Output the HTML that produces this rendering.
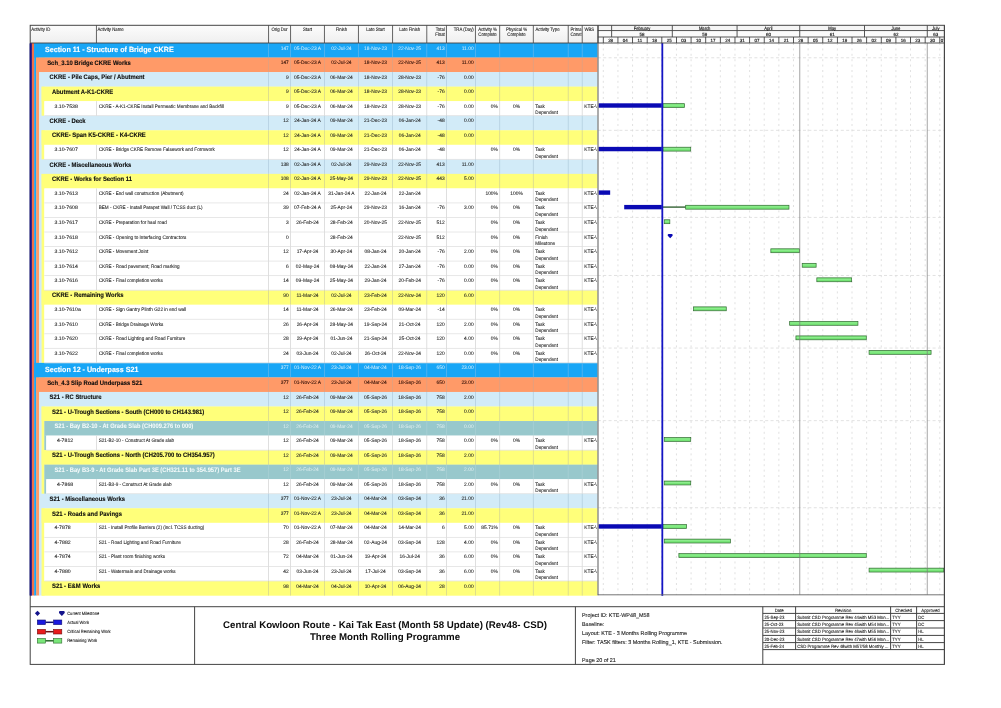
<!DOCTYPE html><html lang="en"><head><meta charset="utf-8"><title>Three Month Rolling Programme</title>
<style>
*{margin:0;padding:0;box-sizing:border-box}
html,body{width:1001px;height:708px;background:#fff;overflow:hidden}
body{position:relative;font-family:"Liberation Sans",sans-serif;color:#111;text-rendering:geometricPrecision;-webkit-font-smoothing:antialiased}
#pg{position:absolute;left:0;top:0;width:1001px;height:708px;overflow:hidden}
text{font-family:"Liberation Sans",sans-serif;stroke-linejoin:round}
.t{fill:#222;stroke:#222;stroke-width:.08px}
.h{fill:#2a2a2a;stroke:#2a2a2a;stroke-width:.12px}
.g{font-weight:bold;fill:#0c0c0c;stroke:#0c0c0c;stroke-width:.12px}
.s{font-weight:bold;fill:#fff;stroke:#fff;stroke-width:.14px}
.w{fill:#fff;stroke:#fff}
.t.w{stroke:none;fill-opacity:.88}
.g.w{fill:#f4fafa;stroke:#f4fafa;stroke-width:.04px}
.gh{fill:#222;stroke:#222;stroke-width:.18px}
.ft{fill:#1c1c1c;stroke:#1c1c1c;stroke-width:.1px}
.rv{fill:#1c1c1c;stroke:#1c1c1c;stroke-width:.1px}
.lg{fill:#1c1c1c;stroke:#1c1c1c;stroke-width:.1px}
.ttl{font-weight:bold;fill:#0c0c0c}
svg{position:absolute;left:0;top:0}
#tx{will-change:transform;opacity:.999}
</style></head><body><div id="pg"><svg id="gfx" width="1001" height="708" viewBox="0 0 1001 708">
<defs><linearGradient id="hg" x1="0" y1="0" x2="0" y2="1"><stop offset="0" stop-color="#fcfcfc"/><stop offset="1" stop-color="#efefef"/></linearGradient></defs>
<rect x="30.2" y="25.3" width="567.6" height="17.7" fill="url(#hg)"/>
<rect x="95.95" y="25.3" width="0.9" height="17.7" fill="#555"/>
<rect x="268.15" y="25.3" width="0.9" height="17.7" fill="#555"/>
<rect x="290.15" y="25.3" width="0.9" height="17.7" fill="#555"/>
<rect x="323.95" y="25.3" width="0.9" height="17.7" fill="#555"/>
<rect x="357.95" y="25.3" width="0.9" height="17.7" fill="#555"/>
<rect x="392.15" y="25.3" width="0.9" height="17.7" fill="#555"/>
<rect x="426.35" y="25.3" width="0.9" height="17.7" fill="#555"/>
<rect x="445.95" y="25.3" width="0.9" height="17.7" fill="#555"/>
<rect x="474.95" y="25.3" width="0.9" height="17.7" fill="#555"/>
<rect x="499.25" y="25.3" width="0.9" height="17.7" fill="#555"/>
<rect x="532.85" y="25.3" width="0.9" height="17.7" fill="#555"/>
<rect x="567.75" y="25.3" width="0.9" height="17.7" fill="#555"/>
<rect x="581.75" y="25.3" width="0.9" height="17.7" fill="#555"/>
<rect x="30" y="43" width="1.9" height="552.5" fill="#14148c"/>
<rect x="31.6" y="43" width="2.9" height="552.5" fill="#f0704a"/>
<rect x="34.2" y="43" width="2.3" height="552.5" fill="#18a6f6"/>
<rect x="36.2" y="43" width="3.1" height="552.5" fill="#ff9a68"/>
<rect x="39" y="43" width="2.9" height="552.5" fill="#d2ebf8"/>
<rect x="41.6" y="43" width="3" height="552.5" fill="#ffff7a"/>
<rect x="34.2" y="43" width="563.6" height="14.74" fill="#18a6f6"/>
<rect x="36.2" y="57.54" width="561.6" height="14.74" fill="#ff9a68"/>
<rect x="39" y="72.08" width="558.8" height="14.74" fill="#d2ebf8"/>
<rect x="41.6" y="86.62" width="556.2" height="14.74" fill="#ffff7a"/>
<rect x="44.3" y="101.16" width="553.5" height="14.74" fill="#fff"/>
<rect x="39" y="115.7" width="558.8" height="14.74" fill="#d2ebf8"/>
<rect x="41.6" y="130.24" width="556.2" height="14.74" fill="#ffff7a"/>
<rect x="44.3" y="144.78" width="553.5" height="14.74" fill="#fff"/>
<rect x="39" y="159.32" width="558.8" height="14.74" fill="#d2ebf8"/>
<rect x="41.6" y="173.86" width="556.2" height="14.74" fill="#ffff7a"/>
<rect x="44.3" y="188.39" width="553.5" height="14.74" fill="#fff"/>
<rect x="44.3" y="202.93" width="553.5" height="14.74" fill="#fff"/>
<rect x="44.3" y="217.47" width="553.5" height="14.74" fill="#fff"/>
<rect x="44.3" y="232.01" width="553.5" height="14.74" fill="#fff"/>
<rect x="44.3" y="246.55" width="553.5" height="14.74" fill="#fff"/>
<rect x="44.3" y="261.09" width="553.5" height="14.74" fill="#fff"/>
<rect x="44.3" y="275.63" width="553.5" height="14.74" fill="#fff"/>
<rect x="41.6" y="290.17" width="556.2" height="14.74" fill="#ffff7a"/>
<rect x="44.3" y="304.71" width="553.5" height="14.74" fill="#fff"/>
<rect x="44.3" y="319.25" width="553.5" height="14.74" fill="#fff"/>
<rect x="44.3" y="333.79" width="553.5" height="14.74" fill="#fff"/>
<rect x="44.3" y="348.33" width="553.5" height="14.74" fill="#fff"/>
<rect x="34.2" y="362.87" width="563.6" height="14.74" fill="#18a6f6"/>
<rect x="36.2" y="377.41" width="561.6" height="14.74" fill="#ff9a68"/>
<rect x="39" y="391.95" width="558.8" height="14.74" fill="#d2ebf8"/>
<rect x="41.6" y="406.49" width="556.2" height="14.74" fill="#ffff7a"/>
<rect x="44.3" y="421.03" width="553.5" height="14.74" fill="#98c8cc"/>
<rect x="44.3" y="435.57" width="2" height="14.74" fill="#98c8cc"/>
<rect x="46.3" y="435.57" width="551.5" height="14.74" fill="#fff"/>
<rect x="41.6" y="450.11" width="556.2" height="14.74" fill="#ffff7a"/>
<rect x="44.3" y="464.64" width="553.5" height="14.74" fill="#98c8cc"/>
<rect x="44.3" y="479.18" width="2" height="14.74" fill="#98c8cc"/>
<rect x="46.3" y="479.18" width="551.5" height="14.74" fill="#fff"/>
<rect x="39" y="493.72" width="558.8" height="14.74" fill="#d2ebf8"/>
<rect x="41.6" y="508.26" width="556.2" height="14.74" fill="#ffff7a"/>
<rect x="44.3" y="522.8" width="553.5" height="14.74" fill="#fff"/>
<rect x="44.3" y="537.34" width="553.5" height="14.74" fill="#fff"/>
<rect x="44.3" y="551.88" width="553.5" height="14.74" fill="#fff"/>
<rect x="44.3" y="566.42" width="553.5" height="14.74" fill="#fff"/>
<rect x="41.6" y="580.96" width="556.2" height="14.74" fill="#ffff7a"/>
<rect x="268.2" y="43" width="0.8" height="14.54" fill="#5cb4ee"/>
<rect x="290.2" y="43" width="0.8" height="14.54" fill="#5cb4ee"/>
<rect x="324" y="43" width="0.8" height="14.54" fill="#5cb4ee"/>
<rect x="358" y="43" width="0.8" height="14.54" fill="#5cb4ee"/>
<rect x="392.2" y="43" width="0.8" height="14.54" fill="#5cb4ee"/>
<rect x="426.4" y="43" width="0.8" height="14.54" fill="#5cb4ee"/>
<rect x="446" y="43" width="0.8" height="14.54" fill="#5cb4ee"/>
<rect x="475" y="43" width="0.8" height="14.54" fill="#5cb4ee"/>
<rect x="499.3" y="43" width="0.8" height="14.54" fill="#5cb4ee"/>
<rect x="532.9" y="43" width="0.8" height="14.54" fill="#5cb4ee"/>
<rect x="567.8" y="43" width="0.8" height="14.54" fill="#5cb4ee"/>
<rect x="581.8" y="43" width="0.8" height="14.54" fill="#5cb4ee"/>
<rect x="268.2" y="57.54" width="0.8" height="14.54" fill="#e0a080"/>
<rect x="290.2" y="57.54" width="0.8" height="14.54" fill="#e0a080"/>
<rect x="324" y="57.54" width="0.8" height="14.54" fill="#e0a080"/>
<rect x="358" y="57.54" width="0.8" height="14.54" fill="#e0a080"/>
<rect x="392.2" y="57.54" width="0.8" height="14.54" fill="#e0a080"/>
<rect x="426.4" y="57.54" width="0.8" height="14.54" fill="#e0a080"/>
<rect x="446" y="57.54" width="0.8" height="14.54" fill="#e0a080"/>
<rect x="475" y="57.54" width="0.8" height="14.54" fill="#e0a080"/>
<rect x="499.3" y="57.54" width="0.8" height="14.54" fill="#e0a080"/>
<rect x="532.9" y="57.54" width="0.8" height="14.54" fill="#e0a080"/>
<rect x="567.8" y="57.54" width="0.8" height="14.54" fill="#e0a080"/>
<rect x="581.8" y="57.54" width="0.8" height="14.54" fill="#e0a080"/>
<rect x="268.2" y="72.08" width="0.8" height="14.54" fill="#b4cfe0"/>
<rect x="290.2" y="72.08" width="0.8" height="14.54" fill="#b4cfe0"/>
<rect x="324" y="72.08" width="0.8" height="14.54" fill="#b4cfe0"/>
<rect x="358" y="72.08" width="0.8" height="14.54" fill="#b4cfe0"/>
<rect x="392.2" y="72.08" width="0.8" height="14.54" fill="#b4cfe0"/>
<rect x="426.4" y="72.08" width="0.8" height="14.54" fill="#b4cfe0"/>
<rect x="446" y="72.08" width="0.8" height="14.54" fill="#b4cfe0"/>
<rect x="475" y="72.08" width="0.8" height="14.54" fill="#b4cfe0"/>
<rect x="499.3" y="72.08" width="0.8" height="14.54" fill="#b4cfe0"/>
<rect x="532.9" y="72.08" width="0.8" height="14.54" fill="#b4cfe0"/>
<rect x="567.8" y="72.08" width="0.8" height="14.54" fill="#b4cfe0"/>
<rect x="581.8" y="72.08" width="0.8" height="14.54" fill="#b4cfe0"/>
<rect x="268.2" y="86.62" width="0.8" height="14.54" fill="#d8d890"/>
<rect x="290.2" y="86.62" width="0.8" height="14.54" fill="#d8d890"/>
<rect x="324" y="86.62" width="0.8" height="14.54" fill="#d8d890"/>
<rect x="358" y="86.62" width="0.8" height="14.54" fill="#d8d890"/>
<rect x="392.2" y="86.62" width="0.8" height="14.54" fill="#d8d890"/>
<rect x="426.4" y="86.62" width="0.8" height="14.54" fill="#d8d890"/>
<rect x="446" y="86.62" width="0.8" height="14.54" fill="#d8d890"/>
<rect x="475" y="86.62" width="0.8" height="14.54" fill="#d8d890"/>
<rect x="499.3" y="86.62" width="0.8" height="14.54" fill="#d8d890"/>
<rect x="532.9" y="86.62" width="0.8" height="14.54" fill="#d8d890"/>
<rect x="567.8" y="86.62" width="0.8" height="14.54" fill="#d8d890"/>
<rect x="581.8" y="86.62" width="0.8" height="14.54" fill="#d8d890"/>
<rect x="44.3" y="115.3" width="553.5" height="0.8" fill="#e2e2e2"/>
<rect x="96" y="101.16" width="0.8" height="14.54" fill="#d8d8d8"/>
<rect x="268.2" y="101.16" width="0.8" height="14.54" fill="#d8d8d8"/>
<rect x="290.2" y="101.16" width="0.8" height="14.54" fill="#d8d8d8"/>
<rect x="324" y="101.16" width="0.8" height="14.54" fill="#d8d8d8"/>
<rect x="358" y="101.16" width="0.8" height="14.54" fill="#d8d8d8"/>
<rect x="392.2" y="101.16" width="0.8" height="14.54" fill="#d8d8d8"/>
<rect x="426.4" y="101.16" width="0.8" height="14.54" fill="#d8d8d8"/>
<rect x="446" y="101.16" width="0.8" height="14.54" fill="#d8d8d8"/>
<rect x="475" y="101.16" width="0.8" height="14.54" fill="#d8d8d8"/>
<rect x="499.3" y="101.16" width="0.8" height="14.54" fill="#d8d8d8"/>
<rect x="532.9" y="101.16" width="0.8" height="14.54" fill="#d8d8d8"/>
<rect x="567.8" y="101.16" width="0.8" height="14.54" fill="#d8d8d8"/>
<rect x="581.8" y="101.16" width="0.8" height="14.54" fill="#d8d8d8"/>
<rect x="268.2" y="115.7" width="0.8" height="14.54" fill="#b4cfe0"/>
<rect x="290.2" y="115.7" width="0.8" height="14.54" fill="#b4cfe0"/>
<rect x="324" y="115.7" width="0.8" height="14.54" fill="#b4cfe0"/>
<rect x="358" y="115.7" width="0.8" height="14.54" fill="#b4cfe0"/>
<rect x="392.2" y="115.7" width="0.8" height="14.54" fill="#b4cfe0"/>
<rect x="426.4" y="115.7" width="0.8" height="14.54" fill="#b4cfe0"/>
<rect x="446" y="115.7" width="0.8" height="14.54" fill="#b4cfe0"/>
<rect x="475" y="115.7" width="0.8" height="14.54" fill="#b4cfe0"/>
<rect x="499.3" y="115.7" width="0.8" height="14.54" fill="#b4cfe0"/>
<rect x="532.9" y="115.7" width="0.8" height="14.54" fill="#b4cfe0"/>
<rect x="567.8" y="115.7" width="0.8" height="14.54" fill="#b4cfe0"/>
<rect x="581.8" y="115.7" width="0.8" height="14.54" fill="#b4cfe0"/>
<rect x="268.2" y="130.24" width="0.8" height="14.54" fill="#d8d890"/>
<rect x="290.2" y="130.24" width="0.8" height="14.54" fill="#d8d890"/>
<rect x="324" y="130.24" width="0.8" height="14.54" fill="#d8d890"/>
<rect x="358" y="130.24" width="0.8" height="14.54" fill="#d8d890"/>
<rect x="392.2" y="130.24" width="0.8" height="14.54" fill="#d8d890"/>
<rect x="426.4" y="130.24" width="0.8" height="14.54" fill="#d8d890"/>
<rect x="446" y="130.24" width="0.8" height="14.54" fill="#d8d890"/>
<rect x="475" y="130.24" width="0.8" height="14.54" fill="#d8d890"/>
<rect x="499.3" y="130.24" width="0.8" height="14.54" fill="#d8d890"/>
<rect x="532.9" y="130.24" width="0.8" height="14.54" fill="#d8d890"/>
<rect x="567.8" y="130.24" width="0.8" height="14.54" fill="#d8d890"/>
<rect x="581.8" y="130.24" width="0.8" height="14.54" fill="#d8d890"/>
<rect x="44.3" y="158.92" width="553.5" height="0.8" fill="#e2e2e2"/>
<rect x="96" y="144.78" width="0.8" height="14.54" fill="#d8d8d8"/>
<rect x="268.2" y="144.78" width="0.8" height="14.54" fill="#d8d8d8"/>
<rect x="290.2" y="144.78" width="0.8" height="14.54" fill="#d8d8d8"/>
<rect x="324" y="144.78" width="0.8" height="14.54" fill="#d8d8d8"/>
<rect x="358" y="144.78" width="0.8" height="14.54" fill="#d8d8d8"/>
<rect x="392.2" y="144.78" width="0.8" height="14.54" fill="#d8d8d8"/>
<rect x="426.4" y="144.78" width="0.8" height="14.54" fill="#d8d8d8"/>
<rect x="446" y="144.78" width="0.8" height="14.54" fill="#d8d8d8"/>
<rect x="475" y="144.78" width="0.8" height="14.54" fill="#d8d8d8"/>
<rect x="499.3" y="144.78" width="0.8" height="14.54" fill="#d8d8d8"/>
<rect x="532.9" y="144.78" width="0.8" height="14.54" fill="#d8d8d8"/>
<rect x="567.8" y="144.78" width="0.8" height="14.54" fill="#d8d8d8"/>
<rect x="581.8" y="144.78" width="0.8" height="14.54" fill="#d8d8d8"/>
<rect x="268.2" y="159.32" width="0.8" height="14.54" fill="#b4cfe0"/>
<rect x="290.2" y="159.32" width="0.8" height="14.54" fill="#b4cfe0"/>
<rect x="324" y="159.32" width="0.8" height="14.54" fill="#b4cfe0"/>
<rect x="358" y="159.32" width="0.8" height="14.54" fill="#b4cfe0"/>
<rect x="392.2" y="159.32" width="0.8" height="14.54" fill="#b4cfe0"/>
<rect x="426.4" y="159.32" width="0.8" height="14.54" fill="#b4cfe0"/>
<rect x="446" y="159.32" width="0.8" height="14.54" fill="#b4cfe0"/>
<rect x="475" y="159.32" width="0.8" height="14.54" fill="#b4cfe0"/>
<rect x="499.3" y="159.32" width="0.8" height="14.54" fill="#b4cfe0"/>
<rect x="532.9" y="159.32" width="0.8" height="14.54" fill="#b4cfe0"/>
<rect x="567.8" y="159.32" width="0.8" height="14.54" fill="#b4cfe0"/>
<rect x="581.8" y="159.32" width="0.8" height="14.54" fill="#b4cfe0"/>
<rect x="268.2" y="173.86" width="0.8" height="14.54" fill="#d8d890"/>
<rect x="290.2" y="173.86" width="0.8" height="14.54" fill="#d8d890"/>
<rect x="324" y="173.86" width="0.8" height="14.54" fill="#d8d890"/>
<rect x="358" y="173.86" width="0.8" height="14.54" fill="#d8d890"/>
<rect x="392.2" y="173.86" width="0.8" height="14.54" fill="#d8d890"/>
<rect x="426.4" y="173.86" width="0.8" height="14.54" fill="#d8d890"/>
<rect x="446" y="173.86" width="0.8" height="14.54" fill="#d8d890"/>
<rect x="475" y="173.86" width="0.8" height="14.54" fill="#d8d890"/>
<rect x="499.3" y="173.86" width="0.8" height="14.54" fill="#d8d890"/>
<rect x="532.9" y="173.86" width="0.8" height="14.54" fill="#d8d890"/>
<rect x="567.8" y="173.86" width="0.8" height="14.54" fill="#d8d890"/>
<rect x="581.8" y="173.86" width="0.8" height="14.54" fill="#d8d890"/>
<rect x="44.3" y="202.53" width="553.5" height="0.8" fill="#e2e2e2"/>
<rect x="96" y="188.39" width="0.8" height="14.54" fill="#d8d8d8"/>
<rect x="268.2" y="188.39" width="0.8" height="14.54" fill="#d8d8d8"/>
<rect x="290.2" y="188.39" width="0.8" height="14.54" fill="#d8d8d8"/>
<rect x="324" y="188.39" width="0.8" height="14.54" fill="#d8d8d8"/>
<rect x="358" y="188.39" width="0.8" height="14.54" fill="#d8d8d8"/>
<rect x="392.2" y="188.39" width="0.8" height="14.54" fill="#d8d8d8"/>
<rect x="426.4" y="188.39" width="0.8" height="14.54" fill="#d8d8d8"/>
<rect x="446" y="188.39" width="0.8" height="14.54" fill="#d8d8d8"/>
<rect x="475" y="188.39" width="0.8" height="14.54" fill="#d8d8d8"/>
<rect x="499.3" y="188.39" width="0.8" height="14.54" fill="#d8d8d8"/>
<rect x="532.9" y="188.39" width="0.8" height="14.54" fill="#d8d8d8"/>
<rect x="567.8" y="188.39" width="0.8" height="14.54" fill="#d8d8d8"/>
<rect x="581.8" y="188.39" width="0.8" height="14.54" fill="#d8d8d8"/>
<rect x="44.3" y="217.07" width="553.5" height="0.8" fill="#e2e2e2"/>
<rect x="96" y="202.93" width="0.8" height="14.54" fill="#d8d8d8"/>
<rect x="268.2" y="202.93" width="0.8" height="14.54" fill="#d8d8d8"/>
<rect x="290.2" y="202.93" width="0.8" height="14.54" fill="#d8d8d8"/>
<rect x="324" y="202.93" width="0.8" height="14.54" fill="#d8d8d8"/>
<rect x="358" y="202.93" width="0.8" height="14.54" fill="#d8d8d8"/>
<rect x="392.2" y="202.93" width="0.8" height="14.54" fill="#d8d8d8"/>
<rect x="426.4" y="202.93" width="0.8" height="14.54" fill="#d8d8d8"/>
<rect x="446" y="202.93" width="0.8" height="14.54" fill="#d8d8d8"/>
<rect x="475" y="202.93" width="0.8" height="14.54" fill="#d8d8d8"/>
<rect x="499.3" y="202.93" width="0.8" height="14.54" fill="#d8d8d8"/>
<rect x="532.9" y="202.93" width="0.8" height="14.54" fill="#d8d8d8"/>
<rect x="567.8" y="202.93" width="0.8" height="14.54" fill="#d8d8d8"/>
<rect x="581.8" y="202.93" width="0.8" height="14.54" fill="#d8d8d8"/>
<rect x="44.3" y="231.61" width="553.5" height="0.8" fill="#e2e2e2"/>
<rect x="96" y="217.47" width="0.8" height="14.54" fill="#d8d8d8"/>
<rect x="268.2" y="217.47" width="0.8" height="14.54" fill="#d8d8d8"/>
<rect x="290.2" y="217.47" width="0.8" height="14.54" fill="#d8d8d8"/>
<rect x="324" y="217.47" width="0.8" height="14.54" fill="#d8d8d8"/>
<rect x="358" y="217.47" width="0.8" height="14.54" fill="#d8d8d8"/>
<rect x="392.2" y="217.47" width="0.8" height="14.54" fill="#d8d8d8"/>
<rect x="426.4" y="217.47" width="0.8" height="14.54" fill="#d8d8d8"/>
<rect x="446" y="217.47" width="0.8" height="14.54" fill="#d8d8d8"/>
<rect x="475" y="217.47" width="0.8" height="14.54" fill="#d8d8d8"/>
<rect x="499.3" y="217.47" width="0.8" height="14.54" fill="#d8d8d8"/>
<rect x="532.9" y="217.47" width="0.8" height="14.54" fill="#d8d8d8"/>
<rect x="567.8" y="217.47" width="0.8" height="14.54" fill="#d8d8d8"/>
<rect x="581.8" y="217.47" width="0.8" height="14.54" fill="#d8d8d8"/>
<rect x="44.3" y="246.15" width="553.5" height="0.8" fill="#e2e2e2"/>
<rect x="96" y="232.01" width="0.8" height="14.54" fill="#d8d8d8"/>
<rect x="268.2" y="232.01" width="0.8" height="14.54" fill="#d8d8d8"/>
<rect x="290.2" y="232.01" width="0.8" height="14.54" fill="#d8d8d8"/>
<rect x="324" y="232.01" width="0.8" height="14.54" fill="#d8d8d8"/>
<rect x="358" y="232.01" width="0.8" height="14.54" fill="#d8d8d8"/>
<rect x="392.2" y="232.01" width="0.8" height="14.54" fill="#d8d8d8"/>
<rect x="426.4" y="232.01" width="0.8" height="14.54" fill="#d8d8d8"/>
<rect x="446" y="232.01" width="0.8" height="14.54" fill="#d8d8d8"/>
<rect x="475" y="232.01" width="0.8" height="14.54" fill="#d8d8d8"/>
<rect x="499.3" y="232.01" width="0.8" height="14.54" fill="#d8d8d8"/>
<rect x="532.9" y="232.01" width="0.8" height="14.54" fill="#d8d8d8"/>
<rect x="567.8" y="232.01" width="0.8" height="14.54" fill="#d8d8d8"/>
<rect x="581.8" y="232.01" width="0.8" height="14.54" fill="#d8d8d8"/>
<rect x="44.3" y="260.69" width="553.5" height="0.8" fill="#e2e2e2"/>
<rect x="96" y="246.55" width="0.8" height="14.54" fill="#d8d8d8"/>
<rect x="268.2" y="246.55" width="0.8" height="14.54" fill="#d8d8d8"/>
<rect x="290.2" y="246.55" width="0.8" height="14.54" fill="#d8d8d8"/>
<rect x="324" y="246.55" width="0.8" height="14.54" fill="#d8d8d8"/>
<rect x="358" y="246.55" width="0.8" height="14.54" fill="#d8d8d8"/>
<rect x="392.2" y="246.55" width="0.8" height="14.54" fill="#d8d8d8"/>
<rect x="426.4" y="246.55" width="0.8" height="14.54" fill="#d8d8d8"/>
<rect x="446" y="246.55" width="0.8" height="14.54" fill="#d8d8d8"/>
<rect x="475" y="246.55" width="0.8" height="14.54" fill="#d8d8d8"/>
<rect x="499.3" y="246.55" width="0.8" height="14.54" fill="#d8d8d8"/>
<rect x="532.9" y="246.55" width="0.8" height="14.54" fill="#d8d8d8"/>
<rect x="567.8" y="246.55" width="0.8" height="14.54" fill="#d8d8d8"/>
<rect x="581.8" y="246.55" width="0.8" height="14.54" fill="#d8d8d8"/>
<rect x="44.3" y="275.23" width="553.5" height="0.8" fill="#e2e2e2"/>
<rect x="96" y="261.09" width="0.8" height="14.54" fill="#d8d8d8"/>
<rect x="268.2" y="261.09" width="0.8" height="14.54" fill="#d8d8d8"/>
<rect x="290.2" y="261.09" width="0.8" height="14.54" fill="#d8d8d8"/>
<rect x="324" y="261.09" width="0.8" height="14.54" fill="#d8d8d8"/>
<rect x="358" y="261.09" width="0.8" height="14.54" fill="#d8d8d8"/>
<rect x="392.2" y="261.09" width="0.8" height="14.54" fill="#d8d8d8"/>
<rect x="426.4" y="261.09" width="0.8" height="14.54" fill="#d8d8d8"/>
<rect x="446" y="261.09" width="0.8" height="14.54" fill="#d8d8d8"/>
<rect x="475" y="261.09" width="0.8" height="14.54" fill="#d8d8d8"/>
<rect x="499.3" y="261.09" width="0.8" height="14.54" fill="#d8d8d8"/>
<rect x="532.9" y="261.09" width="0.8" height="14.54" fill="#d8d8d8"/>
<rect x="567.8" y="261.09" width="0.8" height="14.54" fill="#d8d8d8"/>
<rect x="581.8" y="261.09" width="0.8" height="14.54" fill="#d8d8d8"/>
<rect x="44.3" y="289.77" width="553.5" height="0.8" fill="#e2e2e2"/>
<rect x="96" y="275.63" width="0.8" height="14.54" fill="#d8d8d8"/>
<rect x="268.2" y="275.63" width="0.8" height="14.54" fill="#d8d8d8"/>
<rect x="290.2" y="275.63" width="0.8" height="14.54" fill="#d8d8d8"/>
<rect x="324" y="275.63" width="0.8" height="14.54" fill="#d8d8d8"/>
<rect x="358" y="275.63" width="0.8" height="14.54" fill="#d8d8d8"/>
<rect x="392.2" y="275.63" width="0.8" height="14.54" fill="#d8d8d8"/>
<rect x="426.4" y="275.63" width="0.8" height="14.54" fill="#d8d8d8"/>
<rect x="446" y="275.63" width="0.8" height="14.54" fill="#d8d8d8"/>
<rect x="475" y="275.63" width="0.8" height="14.54" fill="#d8d8d8"/>
<rect x="499.3" y="275.63" width="0.8" height="14.54" fill="#d8d8d8"/>
<rect x="532.9" y="275.63" width="0.8" height="14.54" fill="#d8d8d8"/>
<rect x="567.8" y="275.63" width="0.8" height="14.54" fill="#d8d8d8"/>
<rect x="581.8" y="275.63" width="0.8" height="14.54" fill="#d8d8d8"/>
<rect x="268.2" y="290.17" width="0.8" height="14.54" fill="#d8d890"/>
<rect x="290.2" y="290.17" width="0.8" height="14.54" fill="#d8d890"/>
<rect x="324" y="290.17" width="0.8" height="14.54" fill="#d8d890"/>
<rect x="358" y="290.17" width="0.8" height="14.54" fill="#d8d890"/>
<rect x="392.2" y="290.17" width="0.8" height="14.54" fill="#d8d890"/>
<rect x="426.4" y="290.17" width="0.8" height="14.54" fill="#d8d890"/>
<rect x="446" y="290.17" width="0.8" height="14.54" fill="#d8d890"/>
<rect x="475" y="290.17" width="0.8" height="14.54" fill="#d8d890"/>
<rect x="499.3" y="290.17" width="0.8" height="14.54" fill="#d8d890"/>
<rect x="532.9" y="290.17" width="0.8" height="14.54" fill="#d8d890"/>
<rect x="567.8" y="290.17" width="0.8" height="14.54" fill="#d8d890"/>
<rect x="581.8" y="290.17" width="0.8" height="14.54" fill="#d8d890"/>
<rect x="44.3" y="318.85" width="553.5" height="0.8" fill="#e2e2e2"/>
<rect x="96" y="304.71" width="0.8" height="14.54" fill="#d8d8d8"/>
<rect x="268.2" y="304.71" width="0.8" height="14.54" fill="#d8d8d8"/>
<rect x="290.2" y="304.71" width="0.8" height="14.54" fill="#d8d8d8"/>
<rect x="324" y="304.71" width="0.8" height="14.54" fill="#d8d8d8"/>
<rect x="358" y="304.71" width="0.8" height="14.54" fill="#d8d8d8"/>
<rect x="392.2" y="304.71" width="0.8" height="14.54" fill="#d8d8d8"/>
<rect x="426.4" y="304.71" width="0.8" height="14.54" fill="#d8d8d8"/>
<rect x="446" y="304.71" width="0.8" height="14.54" fill="#d8d8d8"/>
<rect x="475" y="304.71" width="0.8" height="14.54" fill="#d8d8d8"/>
<rect x="499.3" y="304.71" width="0.8" height="14.54" fill="#d8d8d8"/>
<rect x="532.9" y="304.71" width="0.8" height="14.54" fill="#d8d8d8"/>
<rect x="567.8" y="304.71" width="0.8" height="14.54" fill="#d8d8d8"/>
<rect x="581.8" y="304.71" width="0.8" height="14.54" fill="#d8d8d8"/>
<rect x="44.3" y="333.39" width="553.5" height="0.8" fill="#e2e2e2"/>
<rect x="96" y="319.25" width="0.8" height="14.54" fill="#d8d8d8"/>
<rect x="268.2" y="319.25" width="0.8" height="14.54" fill="#d8d8d8"/>
<rect x="290.2" y="319.25" width="0.8" height="14.54" fill="#d8d8d8"/>
<rect x="324" y="319.25" width="0.8" height="14.54" fill="#d8d8d8"/>
<rect x="358" y="319.25" width="0.8" height="14.54" fill="#d8d8d8"/>
<rect x="392.2" y="319.25" width="0.8" height="14.54" fill="#d8d8d8"/>
<rect x="426.4" y="319.25" width="0.8" height="14.54" fill="#d8d8d8"/>
<rect x="446" y="319.25" width="0.8" height="14.54" fill="#d8d8d8"/>
<rect x="475" y="319.25" width="0.8" height="14.54" fill="#d8d8d8"/>
<rect x="499.3" y="319.25" width="0.8" height="14.54" fill="#d8d8d8"/>
<rect x="532.9" y="319.25" width="0.8" height="14.54" fill="#d8d8d8"/>
<rect x="567.8" y="319.25" width="0.8" height="14.54" fill="#d8d8d8"/>
<rect x="581.8" y="319.25" width="0.8" height="14.54" fill="#d8d8d8"/>
<rect x="44.3" y="347.93" width="553.5" height="0.8" fill="#e2e2e2"/>
<rect x="96" y="333.79" width="0.8" height="14.54" fill="#d8d8d8"/>
<rect x="268.2" y="333.79" width="0.8" height="14.54" fill="#d8d8d8"/>
<rect x="290.2" y="333.79" width="0.8" height="14.54" fill="#d8d8d8"/>
<rect x="324" y="333.79" width="0.8" height="14.54" fill="#d8d8d8"/>
<rect x="358" y="333.79" width="0.8" height="14.54" fill="#d8d8d8"/>
<rect x="392.2" y="333.79" width="0.8" height="14.54" fill="#d8d8d8"/>
<rect x="426.4" y="333.79" width="0.8" height="14.54" fill="#d8d8d8"/>
<rect x="446" y="333.79" width="0.8" height="14.54" fill="#d8d8d8"/>
<rect x="475" y="333.79" width="0.8" height="14.54" fill="#d8d8d8"/>
<rect x="499.3" y="333.79" width="0.8" height="14.54" fill="#d8d8d8"/>
<rect x="532.9" y="333.79" width="0.8" height="14.54" fill="#d8d8d8"/>
<rect x="567.8" y="333.79" width="0.8" height="14.54" fill="#d8d8d8"/>
<rect x="581.8" y="333.79" width="0.8" height="14.54" fill="#d8d8d8"/>
<rect x="44.3" y="362.47" width="553.5" height="0.8" fill="#e2e2e2"/>
<rect x="96" y="348.33" width="0.8" height="14.54" fill="#d8d8d8"/>
<rect x="268.2" y="348.33" width="0.8" height="14.54" fill="#d8d8d8"/>
<rect x="290.2" y="348.33" width="0.8" height="14.54" fill="#d8d8d8"/>
<rect x="324" y="348.33" width="0.8" height="14.54" fill="#d8d8d8"/>
<rect x="358" y="348.33" width="0.8" height="14.54" fill="#d8d8d8"/>
<rect x="392.2" y="348.33" width="0.8" height="14.54" fill="#d8d8d8"/>
<rect x="426.4" y="348.33" width="0.8" height="14.54" fill="#d8d8d8"/>
<rect x="446" y="348.33" width="0.8" height="14.54" fill="#d8d8d8"/>
<rect x="475" y="348.33" width="0.8" height="14.54" fill="#d8d8d8"/>
<rect x="499.3" y="348.33" width="0.8" height="14.54" fill="#d8d8d8"/>
<rect x="532.9" y="348.33" width="0.8" height="14.54" fill="#d8d8d8"/>
<rect x="567.8" y="348.33" width="0.8" height="14.54" fill="#d8d8d8"/>
<rect x="581.8" y="348.33" width="0.8" height="14.54" fill="#d8d8d8"/>
<rect x="268.2" y="362.87" width="0.8" height="14.54" fill="#5cb4ee"/>
<rect x="290.2" y="362.87" width="0.8" height="14.54" fill="#5cb4ee"/>
<rect x="324" y="362.87" width="0.8" height="14.54" fill="#5cb4ee"/>
<rect x="358" y="362.87" width="0.8" height="14.54" fill="#5cb4ee"/>
<rect x="392.2" y="362.87" width="0.8" height="14.54" fill="#5cb4ee"/>
<rect x="426.4" y="362.87" width="0.8" height="14.54" fill="#5cb4ee"/>
<rect x="446" y="362.87" width="0.8" height="14.54" fill="#5cb4ee"/>
<rect x="475" y="362.87" width="0.8" height="14.54" fill="#5cb4ee"/>
<rect x="499.3" y="362.87" width="0.8" height="14.54" fill="#5cb4ee"/>
<rect x="532.9" y="362.87" width="0.8" height="14.54" fill="#5cb4ee"/>
<rect x="567.8" y="362.87" width="0.8" height="14.54" fill="#5cb4ee"/>
<rect x="581.8" y="362.87" width="0.8" height="14.54" fill="#5cb4ee"/>
<rect x="268.2" y="377.41" width="0.8" height="14.54" fill="#e0a080"/>
<rect x="290.2" y="377.41" width="0.8" height="14.54" fill="#e0a080"/>
<rect x="324" y="377.41" width="0.8" height="14.54" fill="#e0a080"/>
<rect x="358" y="377.41" width="0.8" height="14.54" fill="#e0a080"/>
<rect x="392.2" y="377.41" width="0.8" height="14.54" fill="#e0a080"/>
<rect x="426.4" y="377.41" width="0.8" height="14.54" fill="#e0a080"/>
<rect x="446" y="377.41" width="0.8" height="14.54" fill="#e0a080"/>
<rect x="475" y="377.41" width="0.8" height="14.54" fill="#e0a080"/>
<rect x="499.3" y="377.41" width="0.8" height="14.54" fill="#e0a080"/>
<rect x="532.9" y="377.41" width="0.8" height="14.54" fill="#e0a080"/>
<rect x="567.8" y="377.41" width="0.8" height="14.54" fill="#e0a080"/>
<rect x="581.8" y="377.41" width="0.8" height="14.54" fill="#e0a080"/>
<rect x="268.2" y="391.95" width="0.8" height="14.54" fill="#b4cfe0"/>
<rect x="290.2" y="391.95" width="0.8" height="14.54" fill="#b4cfe0"/>
<rect x="324" y="391.95" width="0.8" height="14.54" fill="#b4cfe0"/>
<rect x="358" y="391.95" width="0.8" height="14.54" fill="#b4cfe0"/>
<rect x="392.2" y="391.95" width="0.8" height="14.54" fill="#b4cfe0"/>
<rect x="426.4" y="391.95" width="0.8" height="14.54" fill="#b4cfe0"/>
<rect x="446" y="391.95" width="0.8" height="14.54" fill="#b4cfe0"/>
<rect x="475" y="391.95" width="0.8" height="14.54" fill="#b4cfe0"/>
<rect x="499.3" y="391.95" width="0.8" height="14.54" fill="#b4cfe0"/>
<rect x="532.9" y="391.95" width="0.8" height="14.54" fill="#b4cfe0"/>
<rect x="567.8" y="391.95" width="0.8" height="14.54" fill="#b4cfe0"/>
<rect x="581.8" y="391.95" width="0.8" height="14.54" fill="#b4cfe0"/>
<rect x="268.2" y="406.49" width="0.8" height="14.54" fill="#d8d890"/>
<rect x="290.2" y="406.49" width="0.8" height="14.54" fill="#d8d890"/>
<rect x="324" y="406.49" width="0.8" height="14.54" fill="#d8d890"/>
<rect x="358" y="406.49" width="0.8" height="14.54" fill="#d8d890"/>
<rect x="392.2" y="406.49" width="0.8" height="14.54" fill="#d8d890"/>
<rect x="426.4" y="406.49" width="0.8" height="14.54" fill="#d8d890"/>
<rect x="446" y="406.49" width="0.8" height="14.54" fill="#d8d890"/>
<rect x="475" y="406.49" width="0.8" height="14.54" fill="#d8d890"/>
<rect x="499.3" y="406.49" width="0.8" height="14.54" fill="#d8d890"/>
<rect x="532.9" y="406.49" width="0.8" height="14.54" fill="#d8d890"/>
<rect x="567.8" y="406.49" width="0.8" height="14.54" fill="#d8d890"/>
<rect x="581.8" y="406.49" width="0.8" height="14.54" fill="#d8d890"/>
<rect x="268.2" y="421.03" width="0.8" height="14.54" fill="#a8d0d4"/>
<rect x="290.2" y="421.03" width="0.8" height="14.54" fill="#a8d0d4"/>
<rect x="324" y="421.03" width="0.8" height="14.54" fill="#a8d0d4"/>
<rect x="358" y="421.03" width="0.8" height="14.54" fill="#a8d0d4"/>
<rect x="392.2" y="421.03" width="0.8" height="14.54" fill="#a8d0d4"/>
<rect x="426.4" y="421.03" width="0.8" height="14.54" fill="#a8d0d4"/>
<rect x="446" y="421.03" width="0.8" height="14.54" fill="#a8d0d4"/>
<rect x="475" y="421.03" width="0.8" height="14.54" fill="#a8d0d4"/>
<rect x="499.3" y="421.03" width="0.8" height="14.54" fill="#a8d0d4"/>
<rect x="532.9" y="421.03" width="0.8" height="14.54" fill="#a8d0d4"/>
<rect x="567.8" y="421.03" width="0.8" height="14.54" fill="#a8d0d4"/>
<rect x="581.8" y="421.03" width="0.8" height="14.54" fill="#a8d0d4"/>
<rect x="46.3" y="449.71" width="551.5" height="0.8" fill="#e2e2e2"/>
<rect x="96" y="435.57" width="0.8" height="14.54" fill="#d8d8d8"/>
<rect x="268.2" y="435.57" width="0.8" height="14.54" fill="#d8d8d8"/>
<rect x="290.2" y="435.57" width="0.8" height="14.54" fill="#d8d8d8"/>
<rect x="324" y="435.57" width="0.8" height="14.54" fill="#d8d8d8"/>
<rect x="358" y="435.57" width="0.8" height="14.54" fill="#d8d8d8"/>
<rect x="392.2" y="435.57" width="0.8" height="14.54" fill="#d8d8d8"/>
<rect x="426.4" y="435.57" width="0.8" height="14.54" fill="#d8d8d8"/>
<rect x="446" y="435.57" width="0.8" height="14.54" fill="#d8d8d8"/>
<rect x="475" y="435.57" width="0.8" height="14.54" fill="#d8d8d8"/>
<rect x="499.3" y="435.57" width="0.8" height="14.54" fill="#d8d8d8"/>
<rect x="532.9" y="435.57" width="0.8" height="14.54" fill="#d8d8d8"/>
<rect x="567.8" y="435.57" width="0.8" height="14.54" fill="#d8d8d8"/>
<rect x="581.8" y="435.57" width="0.8" height="14.54" fill="#d8d8d8"/>
<rect x="268.2" y="450.11" width="0.8" height="14.54" fill="#d8d890"/>
<rect x="290.2" y="450.11" width="0.8" height="14.54" fill="#d8d890"/>
<rect x="324" y="450.11" width="0.8" height="14.54" fill="#d8d890"/>
<rect x="358" y="450.11" width="0.8" height="14.54" fill="#d8d890"/>
<rect x="392.2" y="450.11" width="0.8" height="14.54" fill="#d8d890"/>
<rect x="426.4" y="450.11" width="0.8" height="14.54" fill="#d8d890"/>
<rect x="446" y="450.11" width="0.8" height="14.54" fill="#d8d890"/>
<rect x="475" y="450.11" width="0.8" height="14.54" fill="#d8d890"/>
<rect x="499.3" y="450.11" width="0.8" height="14.54" fill="#d8d890"/>
<rect x="532.9" y="450.11" width="0.8" height="14.54" fill="#d8d890"/>
<rect x="567.8" y="450.11" width="0.8" height="14.54" fill="#d8d890"/>
<rect x="581.8" y="450.11" width="0.8" height="14.54" fill="#d8d890"/>
<rect x="268.2" y="464.64" width="0.8" height="14.54" fill="#a8d0d4"/>
<rect x="290.2" y="464.64" width="0.8" height="14.54" fill="#a8d0d4"/>
<rect x="324" y="464.64" width="0.8" height="14.54" fill="#a8d0d4"/>
<rect x="358" y="464.64" width="0.8" height="14.54" fill="#a8d0d4"/>
<rect x="392.2" y="464.64" width="0.8" height="14.54" fill="#a8d0d4"/>
<rect x="426.4" y="464.64" width="0.8" height="14.54" fill="#a8d0d4"/>
<rect x="446" y="464.64" width="0.8" height="14.54" fill="#a8d0d4"/>
<rect x="475" y="464.64" width="0.8" height="14.54" fill="#a8d0d4"/>
<rect x="499.3" y="464.64" width="0.8" height="14.54" fill="#a8d0d4"/>
<rect x="532.9" y="464.64" width="0.8" height="14.54" fill="#a8d0d4"/>
<rect x="567.8" y="464.64" width="0.8" height="14.54" fill="#a8d0d4"/>
<rect x="581.8" y="464.64" width="0.8" height="14.54" fill="#a8d0d4"/>
<rect x="46.3" y="493.32" width="551.5" height="0.8" fill="#e2e2e2"/>
<rect x="96" y="479.18" width="0.8" height="14.54" fill="#d8d8d8"/>
<rect x="268.2" y="479.18" width="0.8" height="14.54" fill="#d8d8d8"/>
<rect x="290.2" y="479.18" width="0.8" height="14.54" fill="#d8d8d8"/>
<rect x="324" y="479.18" width="0.8" height="14.54" fill="#d8d8d8"/>
<rect x="358" y="479.18" width="0.8" height="14.54" fill="#d8d8d8"/>
<rect x="392.2" y="479.18" width="0.8" height="14.54" fill="#d8d8d8"/>
<rect x="426.4" y="479.18" width="0.8" height="14.54" fill="#d8d8d8"/>
<rect x="446" y="479.18" width="0.8" height="14.54" fill="#d8d8d8"/>
<rect x="475" y="479.18" width="0.8" height="14.54" fill="#d8d8d8"/>
<rect x="499.3" y="479.18" width="0.8" height="14.54" fill="#d8d8d8"/>
<rect x="532.9" y="479.18" width="0.8" height="14.54" fill="#d8d8d8"/>
<rect x="567.8" y="479.18" width="0.8" height="14.54" fill="#d8d8d8"/>
<rect x="581.8" y="479.18" width="0.8" height="14.54" fill="#d8d8d8"/>
<rect x="268.2" y="493.72" width="0.8" height="14.54" fill="#b4cfe0"/>
<rect x="290.2" y="493.72" width="0.8" height="14.54" fill="#b4cfe0"/>
<rect x="324" y="493.72" width="0.8" height="14.54" fill="#b4cfe0"/>
<rect x="358" y="493.72" width="0.8" height="14.54" fill="#b4cfe0"/>
<rect x="392.2" y="493.72" width="0.8" height="14.54" fill="#b4cfe0"/>
<rect x="426.4" y="493.72" width="0.8" height="14.54" fill="#b4cfe0"/>
<rect x="446" y="493.72" width="0.8" height="14.54" fill="#b4cfe0"/>
<rect x="475" y="493.72" width="0.8" height="14.54" fill="#b4cfe0"/>
<rect x="499.3" y="493.72" width="0.8" height="14.54" fill="#b4cfe0"/>
<rect x="532.9" y="493.72" width="0.8" height="14.54" fill="#b4cfe0"/>
<rect x="567.8" y="493.72" width="0.8" height="14.54" fill="#b4cfe0"/>
<rect x="581.8" y="493.72" width="0.8" height="14.54" fill="#b4cfe0"/>
<rect x="268.2" y="508.26" width="0.8" height="14.54" fill="#d8d890"/>
<rect x="290.2" y="508.26" width="0.8" height="14.54" fill="#d8d890"/>
<rect x="324" y="508.26" width="0.8" height="14.54" fill="#d8d890"/>
<rect x="358" y="508.26" width="0.8" height="14.54" fill="#d8d890"/>
<rect x="392.2" y="508.26" width="0.8" height="14.54" fill="#d8d890"/>
<rect x="426.4" y="508.26" width="0.8" height="14.54" fill="#d8d890"/>
<rect x="446" y="508.26" width="0.8" height="14.54" fill="#d8d890"/>
<rect x="475" y="508.26" width="0.8" height="14.54" fill="#d8d890"/>
<rect x="499.3" y="508.26" width="0.8" height="14.54" fill="#d8d890"/>
<rect x="532.9" y="508.26" width="0.8" height="14.54" fill="#d8d890"/>
<rect x="567.8" y="508.26" width="0.8" height="14.54" fill="#d8d890"/>
<rect x="581.8" y="508.26" width="0.8" height="14.54" fill="#d8d890"/>
<rect x="44.3" y="536.94" width="553.5" height="0.8" fill="#e2e2e2"/>
<rect x="96" y="522.8" width="0.8" height="14.54" fill="#d8d8d8"/>
<rect x="268.2" y="522.8" width="0.8" height="14.54" fill="#d8d8d8"/>
<rect x="290.2" y="522.8" width="0.8" height="14.54" fill="#d8d8d8"/>
<rect x="324" y="522.8" width="0.8" height="14.54" fill="#d8d8d8"/>
<rect x="358" y="522.8" width="0.8" height="14.54" fill="#d8d8d8"/>
<rect x="392.2" y="522.8" width="0.8" height="14.54" fill="#d8d8d8"/>
<rect x="426.4" y="522.8" width="0.8" height="14.54" fill="#d8d8d8"/>
<rect x="446" y="522.8" width="0.8" height="14.54" fill="#d8d8d8"/>
<rect x="475" y="522.8" width="0.8" height="14.54" fill="#d8d8d8"/>
<rect x="499.3" y="522.8" width="0.8" height="14.54" fill="#d8d8d8"/>
<rect x="532.9" y="522.8" width="0.8" height="14.54" fill="#d8d8d8"/>
<rect x="567.8" y="522.8" width="0.8" height="14.54" fill="#d8d8d8"/>
<rect x="581.8" y="522.8" width="0.8" height="14.54" fill="#d8d8d8"/>
<rect x="44.3" y="551.48" width="553.5" height="0.8" fill="#e2e2e2"/>
<rect x="96" y="537.34" width="0.8" height="14.54" fill="#d8d8d8"/>
<rect x="268.2" y="537.34" width="0.8" height="14.54" fill="#d8d8d8"/>
<rect x="290.2" y="537.34" width="0.8" height="14.54" fill="#d8d8d8"/>
<rect x="324" y="537.34" width="0.8" height="14.54" fill="#d8d8d8"/>
<rect x="358" y="537.34" width="0.8" height="14.54" fill="#d8d8d8"/>
<rect x="392.2" y="537.34" width="0.8" height="14.54" fill="#d8d8d8"/>
<rect x="426.4" y="537.34" width="0.8" height="14.54" fill="#d8d8d8"/>
<rect x="446" y="537.34" width="0.8" height="14.54" fill="#d8d8d8"/>
<rect x="475" y="537.34" width="0.8" height="14.54" fill="#d8d8d8"/>
<rect x="499.3" y="537.34" width="0.8" height="14.54" fill="#d8d8d8"/>
<rect x="532.9" y="537.34" width="0.8" height="14.54" fill="#d8d8d8"/>
<rect x="567.8" y="537.34" width="0.8" height="14.54" fill="#d8d8d8"/>
<rect x="581.8" y="537.34" width="0.8" height="14.54" fill="#d8d8d8"/>
<rect x="44.3" y="566.02" width="553.5" height="0.8" fill="#e2e2e2"/>
<rect x="96" y="551.88" width="0.8" height="14.54" fill="#d8d8d8"/>
<rect x="268.2" y="551.88" width="0.8" height="14.54" fill="#d8d8d8"/>
<rect x="290.2" y="551.88" width="0.8" height="14.54" fill="#d8d8d8"/>
<rect x="324" y="551.88" width="0.8" height="14.54" fill="#d8d8d8"/>
<rect x="358" y="551.88" width="0.8" height="14.54" fill="#d8d8d8"/>
<rect x="392.2" y="551.88" width="0.8" height="14.54" fill="#d8d8d8"/>
<rect x="426.4" y="551.88" width="0.8" height="14.54" fill="#d8d8d8"/>
<rect x="446" y="551.88" width="0.8" height="14.54" fill="#d8d8d8"/>
<rect x="475" y="551.88" width="0.8" height="14.54" fill="#d8d8d8"/>
<rect x="499.3" y="551.88" width="0.8" height="14.54" fill="#d8d8d8"/>
<rect x="532.9" y="551.88" width="0.8" height="14.54" fill="#d8d8d8"/>
<rect x="567.8" y="551.88" width="0.8" height="14.54" fill="#d8d8d8"/>
<rect x="581.8" y="551.88" width="0.8" height="14.54" fill="#d8d8d8"/>
<rect x="44.3" y="580.56" width="553.5" height="0.8" fill="#e2e2e2"/>
<rect x="96" y="566.42" width="0.8" height="14.54" fill="#d8d8d8"/>
<rect x="268.2" y="566.42" width="0.8" height="14.54" fill="#d8d8d8"/>
<rect x="290.2" y="566.42" width="0.8" height="14.54" fill="#d8d8d8"/>
<rect x="324" y="566.42" width="0.8" height="14.54" fill="#d8d8d8"/>
<rect x="358" y="566.42" width="0.8" height="14.54" fill="#d8d8d8"/>
<rect x="392.2" y="566.42" width="0.8" height="14.54" fill="#d8d8d8"/>
<rect x="426.4" y="566.42" width="0.8" height="14.54" fill="#d8d8d8"/>
<rect x="446" y="566.42" width="0.8" height="14.54" fill="#d8d8d8"/>
<rect x="475" y="566.42" width="0.8" height="14.54" fill="#d8d8d8"/>
<rect x="499.3" y="566.42" width="0.8" height="14.54" fill="#d8d8d8"/>
<rect x="532.9" y="566.42" width="0.8" height="14.54" fill="#d8d8d8"/>
<rect x="567.8" y="566.42" width="0.8" height="14.54" fill="#d8d8d8"/>
<rect x="581.8" y="566.42" width="0.8" height="14.54" fill="#d8d8d8"/>
<rect x="268.2" y="580.96" width="0.8" height="14.54" fill="#d8d890"/>
<rect x="290.2" y="580.96" width="0.8" height="14.54" fill="#d8d890"/>
<rect x="324" y="580.96" width="0.8" height="14.54" fill="#d8d890"/>
<rect x="358" y="580.96" width="0.8" height="14.54" fill="#d8d890"/>
<rect x="392.2" y="580.96" width="0.8" height="14.54" fill="#d8d890"/>
<rect x="426.4" y="580.96" width="0.8" height="14.54" fill="#d8d890"/>
<rect x="446" y="580.96" width="0.8" height="14.54" fill="#d8d890"/>
<rect x="475" y="580.96" width="0.8" height="14.54" fill="#d8d890"/>
<rect x="499.3" y="580.96" width="0.8" height="14.54" fill="#d8d890"/>
<rect x="532.9" y="580.96" width="0.8" height="14.54" fill="#d8d890"/>
<rect x="567.8" y="580.96" width="0.8" height="14.54" fill="#d8d890"/>
<rect x="581.8" y="580.96" width="0.8" height="14.54" fill="#d8d890"/>
<rect x="597.8" y="25.3" width="346.6" height="17.7" fill="#f5f5f5"/>
<rect x="597.8" y="31" width="346.6" height="12" fill="#fbfbfb"/>
<rect x="597.8" y="43" width="346.6" height="554.5" fill="#fff"/>
<rect x="611.21" y="25.3" width="0.9" height="11.7" fill="#444"/>
<rect x="671.82" y="25.3" width="0.9" height="11.7" fill="#444"/>
<rect x="736.61" y="25.3" width="0.9" height="11.7" fill="#444"/>
<rect x="799.31" y="25.3" width="0.9" height="11.7" fill="#444"/>
<rect x="864.1" y="25.3" width="0.9" height="11.7" fill="#444"/>
<rect x="926.8" y="25.3" width="0.9" height="11.7" fill="#444"/>
<rect x="597.8" y="30.15" width="346.6" height="0.9" fill="#444"/>
<rect x="597.8" y="36.55" width="346.6" height="0.9" fill="#444"/>
<rect x="602.85" y="37" width="0.9" height="6" fill="#444"/>
<rect x="617.48" y="37" width="0.9" height="6" fill="#444"/>
<rect x="632.11" y="37" width="0.9" height="6" fill="#444"/>
<rect x="646.74" y="37" width="0.9" height="6" fill="#444"/>
<rect x="661.37" y="37" width="0.9" height="6" fill="#444"/>
<rect x="676" y="37" width="0.9" height="6" fill="#444"/>
<rect x="690.63" y="37" width="0.9" height="6" fill="#444"/>
<rect x="705.26" y="37" width="0.9" height="6" fill="#444"/>
<rect x="719.89" y="37" width="0.9" height="6" fill="#444"/>
<rect x="734.52" y="37" width="0.9" height="6" fill="#444"/>
<rect x="749.15" y="37" width="0.9" height="6" fill="#444"/>
<rect x="763.78" y="37" width="0.9" height="6" fill="#444"/>
<rect x="778.41" y="37" width="0.9" height="6" fill="#444"/>
<rect x="793.04" y="37" width="0.9" height="6" fill="#444"/>
<rect x="807.67" y="37" width="0.9" height="6" fill="#444"/>
<rect x="822.3" y="37" width="0.9" height="6" fill="#444"/>
<rect x="836.93" y="37" width="0.9" height="6" fill="#444"/>
<rect x="851.56" y="37" width="0.9" height="6" fill="#444"/>
<rect x="866.19" y="37" width="0.9" height="6" fill="#444"/>
<rect x="880.82" y="37" width="0.9" height="6" fill="#444"/>
<rect x="895.45" y="37" width="0.9" height="6" fill="#444"/>
<rect x="910.08" y="37" width="0.9" height="6" fill="#444"/>
<rect x="924.71" y="37" width="0.9" height="6" fill="#444"/>
<rect x="939.34" y="37" width="0.9" height="6" fill="#444"/>
<g><line x1="603.3" y1="43" x2="603.3" y2="594.82" stroke="#d9d9d9" stroke-width="0.8" stroke-dasharray="2 3.4"/><line x1="617.93" y1="43" x2="617.93" y2="594.82" stroke="#d9d9d9" stroke-width="0.8" stroke-dasharray="2 3.4"/><line x1="632.56" y1="43" x2="632.56" y2="594.82" stroke="#d9d9d9" stroke-width="0.8" stroke-dasharray="2 3.4"/><line x1="647.19" y1="43" x2="647.19" y2="594.82" stroke="#d9d9d9" stroke-width="0.8" stroke-dasharray="2 3.4"/><line x1="661.82" y1="43" x2="661.82" y2="594.82" stroke="#d9d9d9" stroke-width="0.8" stroke-dasharray="2 3.4"/><line x1="676.45" y1="43" x2="676.45" y2="594.82" stroke="#d9d9d9" stroke-width="0.8" stroke-dasharray="2 3.4"/><line x1="691.08" y1="43" x2="691.08" y2="594.82" stroke="#d9d9d9" stroke-width="0.8" stroke-dasharray="2 3.4"/><line x1="705.71" y1="43" x2="705.71" y2="594.82" stroke="#d9d9d9" stroke-width="0.8" stroke-dasharray="2 3.4"/><line x1="720.34" y1="43" x2="720.34" y2="594.82" stroke="#d9d9d9" stroke-width="0.8" stroke-dasharray="2 3.4"/><line x1="734.97" y1="43" x2="734.97" y2="594.82" stroke="#d9d9d9" stroke-width="0.8" stroke-dasharray="2 3.4"/><line x1="749.6" y1="43" x2="749.6" y2="594.82" stroke="#d9d9d9" stroke-width="0.8" stroke-dasharray="2 3.4"/><line x1="764.23" y1="43" x2="764.23" y2="594.82" stroke="#d9d9d9" stroke-width="0.8" stroke-dasharray="2 3.4"/><line x1="778.86" y1="43" x2="778.86" y2="594.82" stroke="#d9d9d9" stroke-width="0.8" stroke-dasharray="2 3.4"/><line x1="793.49" y1="43" x2="793.49" y2="594.82" stroke="#d9d9d9" stroke-width="0.8" stroke-dasharray="2 3.4"/><line x1="808.12" y1="43" x2="808.12" y2="594.82" stroke="#d9d9d9" stroke-width="0.8" stroke-dasharray="2 3.4"/><line x1="822.75" y1="43" x2="822.75" y2="594.82" stroke="#d9d9d9" stroke-width="0.8" stroke-dasharray="2 3.4"/><line x1="837.38" y1="43" x2="837.38" y2="594.82" stroke="#d9d9d9" stroke-width="0.8" stroke-dasharray="2 3.4"/><line x1="852.01" y1="43" x2="852.01" y2="594.82" stroke="#d9d9d9" stroke-width="0.8" stroke-dasharray="2 3.4"/><line x1="866.64" y1="43" x2="866.64" y2="594.82" stroke="#d9d9d9" stroke-width="0.8" stroke-dasharray="2 3.4"/><line x1="881.27" y1="43" x2="881.27" y2="594.82" stroke="#d9d9d9" stroke-width="0.8" stroke-dasharray="2 3.4"/><line x1="895.9" y1="43" x2="895.9" y2="594.82" stroke="#d9d9d9" stroke-width="0.8" stroke-dasharray="2 3.4"/><line x1="910.53" y1="43" x2="910.53" y2="594.82" stroke="#d9d9d9" stroke-width="0.8" stroke-dasharray="2 3.4"/><line x1="925.16" y1="43" x2="925.16" y2="594.82" stroke="#d9d9d9" stroke-width="0.8" stroke-dasharray="2 3.4"/><line x1="939.79" y1="43" x2="939.79" y2="594.82" stroke="#d9d9d9" stroke-width="0.8" stroke-dasharray="2 3.4"/><line x1="597.8" y1="57.77" x2="944.4" y2="57.77" stroke="#dadada" stroke-width="0.8" stroke-dasharray="3 2.4"/><line x1="597.8" y1="130.34" x2="944.4" y2="130.34" stroke="#dadada" stroke-width="0.8" stroke-dasharray="3 2.4"/><line x1="597.8" y1="217.43" x2="944.4" y2="217.43" stroke="#dadada" stroke-width="0.8" stroke-dasharray="3 2.4"/><line x1="597.8" y1="275.49" x2="944.4" y2="275.49" stroke="#dadada" stroke-width="0.8" stroke-dasharray="3 2.4"/><line x1="597.8" y1="348.06" x2="944.4" y2="348.06" stroke="#dadada" stroke-width="0.8" stroke-dasharray="3 2.4"/><line x1="597.8" y1="420.64" x2="944.4" y2="420.64" stroke="#dadada" stroke-width="0.8" stroke-dasharray="3 2.4"/><line x1="597.8" y1="507.73" x2="944.4" y2="507.73" stroke="#dadada" stroke-width="0.8" stroke-dasharray="3 2.4"/></g>
<g><rect x="598.4" y="103.31" width="63.42" height="4.4" fill="#0a0ab4"/><rect x="662.97" y="103.66" width="21.49" height="3.9" fill="#74e474" stroke="#356b35" stroke-width="0.7"/><rect x="663.52" y="104.61" width="20.39" height="1.1" fill="#9af09a" opacity="0.7"/><rect x="598.4" y="146.86" width="63.42" height="4.4" fill="#0a0ab4"/><rect x="662.97" y="147.21" width="27.76" height="3.9" fill="#74e474" stroke="#356b35" stroke-width="0.7"/><rect x="663.52" y="148.16" width="26.66" height="1.1" fill="#9af09a" opacity="0.7"/><rect x="598.4" y="190.4" width="11.76" height="4.4" fill="#0a0ab4"/><rect x="624.2" y="204.92" width="37.62" height="4.4" fill="#0a0ab4"/><rect x="661.82" y="206.42" width="23.98" height="1.35" fill="#2e5e2e"/><rect x="685.65" y="205.27" width="103.31" height="3.9" fill="#74e474" stroke="#356b35" stroke-width="0.7"/><rect x="686.2" y="206.22" width="102.21" height="1.1" fill="#9af09a" opacity="0.7"/><rect x="664.26" y="219.78" width="5.57" height="3.9" fill="#74e474" stroke="#356b35" stroke-width="0.7"/><rect x="664.81" y="220.73" width="4.47" height="1.1" fill="#9af09a" opacity="0.7"/><path d="M667.78 234.84 q0 -0.9 0.9 -0.9 h3 q0.9 0 0.9 0.9 v1 l-2.4 2.5 l-2.4 -2.5 z" fill="#0a0ab4"/><rect x="770.85" y="248.81" width="28.56" height="3.9" fill="#74e474" stroke="#356b35" stroke-width="0.7"/><rect x="771.4" y="249.76" width="27.46" height="1.1" fill="#9af09a" opacity="0.7"/><rect x="802.2" y="263.33" width="13.93" height="3.9" fill="#74e474" stroke="#356b35" stroke-width="0.7"/><rect x="802.75" y="264.28" width="12.83" height="1.1" fill="#9af09a" opacity="0.7"/><rect x="816.83" y="277.84" width="34.83" height="3.9" fill="#74e474" stroke="#356b35" stroke-width="0.7"/><rect x="817.38" y="278.79" width="33.73" height="1.1" fill="#9af09a" opacity="0.7"/><rect x="693.52" y="306.87" width="32.74" height="3.9" fill="#74e474" stroke="#356b35" stroke-width="0.7"/><rect x="694.07" y="307.82" width="31.64" height="1.1" fill="#9af09a" opacity="0.7"/><rect x="789.66" y="321.39" width="68.27" height="3.9" fill="#74e474" stroke="#356b35" stroke-width="0.7"/><rect x="790.21" y="322.34" width="67.17" height="1.1" fill="#9af09a" opacity="0.7"/><rect x="795.93" y="335.9" width="70.36" height="3.9" fill="#74e474" stroke="#356b35" stroke-width="0.7"/><rect x="796.48" y="336.85" width="69.26" height="1.1" fill="#9af09a" opacity="0.7"/><rect x="869.08" y="350.42" width="62" height="3.9" fill="#74e474" stroke="#356b35" stroke-width="0.7"/><rect x="869.63" y="351.37" width="60.9" height="1.1" fill="#9af09a" opacity="0.7"/><rect x="664.26" y="437.51" width="26.47" height="3.9" fill="#74e474" stroke="#356b35" stroke-width="0.7"/><rect x="664.81" y="438.46" width="25.37" height="1.1" fill="#9af09a" opacity="0.7"/><rect x="664.26" y="481.05" width="26.47" height="3.9" fill="#74e474" stroke="#356b35" stroke-width="0.7"/><rect x="664.81" y="482" width="25.37" height="1.1" fill="#9af09a" opacity="0.7"/><rect x="598.4" y="524.25" width="63.42" height="4.4" fill="#0a0ab4"/><rect x="662.97" y="524.6" width="23.58" height="3.9" fill="#74e474" stroke="#356b35" stroke-width="0.7"/><rect x="663.52" y="525.54" width="22.48" height="1.1" fill="#9af09a" opacity="0.7"/><rect x="664.26" y="539.11" width="66.18" height="3.9" fill="#74e474" stroke="#356b35" stroke-width="0.7"/><rect x="664.81" y="540.06" width="65.08" height="1.1" fill="#9af09a" opacity="0.7"/><rect x="678.89" y="553.63" width="187.4" height="3.9" fill="#74e474" stroke="#356b35" stroke-width="0.7"/><rect x="679.44" y="554.58" width="186.3" height="1.1" fill="#9af09a" opacity="0.7"/><rect x="869.08" y="568.14" width="74.67" height="3.9" fill="#74e474" stroke="#356b35" stroke-width="0.7"/><rect x="869.63" y="569.09" width="73.57" height="1.1" fill="#9af09a" opacity="0.7"/><line x1="799.76" y1="43" x2="799.76" y2="594.82" stroke="#777" stroke-opacity="0.75" stroke-width="0.9"/><line x1="927.25" y1="43" x2="927.25" y2="594.82" stroke="#777" stroke-opacity="0.75" stroke-width="0.9"/></g>
<rect x="661.42" y="43" width="1.8" height="552.82" fill="#1414c4"/>
<rect x="597.35" y="43" width="1.3" height="552.22" fill="#808080"/>
<rect x="597.3" y="25.3" width="1.4" height="17.7" fill="#3c3c3c"/>
<rect x="30.2" y="25.3" width="914.2" height="639.1" fill="none" stroke="#444" stroke-width="1"/>
<rect x="30.2" y="42.55" width="914.2" height="0.9" fill="#444"/>
<rect x="29.6" y="43.4" width="2" height="552.1" fill="#14148c"/>
<rect x="597.8" y="594.37" width="346.6" height="0.9" fill="#666"/>
<rect x="30.2" y="606.2" width="914.2" height="1" fill="#444"/>
<rect x="943.9" y="25.3" width="1" height="639.1" fill="#444"/>
<rect x="194.1" y="606.7" width="1" height="57.7" fill="#444"/>
<rect x="574.9" y="606.7" width="1" height="57.7" fill="#444"/>
<g><path d="M37.5 610.7 l2.6 2.6 l-2.6 2.6 l-2.6 -2.6 z" fill="#14148c"/><path d="M59 611.9 q0 -1 1 -1 h3.7 q1 0 1 1 v1.2 l-2.85 2.9 l-2.85 -2.9 z" fill="#14148c"/><rect x="37.3" y="620.0" width="8.2" height="4.6" fill="#1a1ae0" stroke="#101070" stroke-width="0.6"/><rect x="53.6" y="620.0" width="8.2" height="4.6" fill="#1a1ae0" stroke="#101070" stroke-width="0.6"/><rect x="45.5" y="621.55" width="8.1" height="1.5" fill="#101070"/><rect x="37.3" y="629.4" width="8.2" height="4.6" fill="#e81c1c" stroke="#701010" stroke-width="0.6"/><rect x="53.6" y="629.4" width="8.2" height="4.6" fill="#e81c1c" stroke="#701010" stroke-width="0.6"/><rect x="45.5" y="630.9499999999999" width="8.1" height="1.5" fill="#701010"/><rect x="37.3" y="638.5" width="8.2" height="4.6" fill="#7ae67a" stroke="#2c6a2c" stroke-width="0.6"/><rect x="53.6" y="638.5" width="8.2" height="4.6" fill="#7ae67a" stroke="#2c6a2c" stroke-width="0.6"/><rect x="45.5" y="640.05" width="8.1" height="1.5" fill="#2c6a2c"/></g>
<rect x="762.3" y="606.7" width="1" height="57.7" fill="#444"/>
<rect x="795.1" y="606.7" width="1" height="42.9" fill="#444"/>
<rect x="890.1" y="606.7" width="1" height="42.9" fill="#444"/>
<rect x="916.1" y="606.7" width="1" height="42.9" fill="#444"/>
<rect x="762.8" y="612.9" width="181.6" height="1" fill="#444"/>
<rect x="762.8" y="620.1" width="181.6" height="1" fill="#444"/>
<rect x="762.8" y="627.5" width="181.6" height="1" fill="#444"/>
<rect x="762.8" y="634.9" width="181.6" height="1" fill="#444"/>
<rect x="762.8" y="642.1" width="181.6" height="1" fill="#444"/>
<rect x="762.8" y="649.1" width="181.6" height="1" fill="#444"/>
</svg>
<svg id="tx" width="1001" height="708" viewBox="0 0 1001 708"><svg x="30.2" y="25.3" width="65.6" height="17.7" viewBox="30.2 25.3 65.6 17.7"><text class="h" transform="translate(31.2 30.7) scale(0.860 1)" font-size="5">Activity ID</text></svg><svg x="96.4" y="25.3" width="171.6" height="17.7" viewBox="96.4 25.3 171.6 17.7"><text class="h" transform="translate(97.4 30.7) scale(0.860 1)" font-size="5">Activity Name</text></svg><svg x="268.6" y="25.3" width="21.4" height="17.7" viewBox="268.6 25.3 21.4 17.7"><text class="h" transform="translate(279.6 30.7) scale(0.860 1)" font-size="5" text-anchor="middle">Orig Dur</text></svg><svg x="290.6" y="25.3" width="33.2" height="17.7" viewBox="290.6 25.3 33.2 17.7"><text class="h" transform="translate(307.5 30.7) scale(0.860 1)" font-size="5" text-anchor="middle">Start</text></svg><svg x="324.4" y="25.3" width="33.4" height="17.7" viewBox="324.4 25.3 33.4 17.7"><text class="h" transform="translate(341.4 30.7) scale(0.860 1)" font-size="5" text-anchor="middle">Finish</text></svg><svg x="358.4" y="25.3" width="33.6" height="17.7" viewBox="358.4 25.3 33.6 17.7"><text class="h" transform="translate(375.5 30.7) scale(0.860 1)" font-size="5" text-anchor="middle">Late Start</text></svg><svg x="392.6" y="25.3" width="33.6" height="17.7" viewBox="392.6 25.3 33.6 17.7"><text class="h" transform="translate(409.7 30.7) scale(0.860 1)" font-size="5" text-anchor="middle">Late Finish</text></svg><svg x="426.8" y="25.3" width="19" height="17.7" viewBox="426.8 25.3 19 17.7"><text class="h" transform="translate(444.8 30.7) scale(0.860 1)" font-size="5" text-anchor="end">Total</text></svg><svg x="426.8" y="25.3" width="19" height="17.7" viewBox="426.8 25.3 19 17.7"><text class="h" transform="translate(444.8 36.3) scale(0.860 1)" font-size="5" text-anchor="end">Float</text></svg><svg x="446.4" y="25.3" width="28.4" height="17.7" viewBox="446.4 25.3 28.4 17.7"><text class="h" transform="translate(473.8 30.7) scale(0.860 1)" font-size="5" text-anchor="end">TRA (Day)</text></svg><svg x="475.4" y="25.3" width="23.7" height="17.7" viewBox="475.4 25.3 23.7 17.7"><text class="h" transform="translate(487.55 30.7) scale(0.860 1)" font-size="5" text-anchor="middle">Activity %</text></svg><svg x="475.4" y="25.3" width="23.7" height="17.7" viewBox="475.4 25.3 23.7 17.7"><text class="h" transform="translate(487.55 36.3) scale(0.860 1)" font-size="5" text-anchor="middle">Complete</text></svg><svg x="499.7" y="25.3" width="33" height="17.7" viewBox="499.7 25.3 33 17.7"><text class="h" transform="translate(516.5 30.7) scale(0.860 1)" font-size="5" text-anchor="middle">Physical %</text></svg><svg x="499.7" y="25.3" width="33" height="17.7" viewBox="499.7 25.3 33 17.7"><text class="h" transform="translate(516.5 36.3) scale(0.860 1)" font-size="5" text-anchor="middle">Complete</text></svg><svg x="533.3" y="25.3" width="34.3" height="17.7" viewBox="533.3 25.3 34.3 17.7"><text class="h" transform="translate(535.5 30.7) scale(0.860 1)" font-size="5">Activity Type</text></svg><svg x="568.2" y="25.3" width="13.4" height="17.7" viewBox="568.2 25.3 13.4 17.7"><text class="h" transform="translate(570.4 30.7) scale(0.860 1)" font-size="5">Prima</text></svg><svg x="568.2" y="25.3" width="13.4" height="17.7" viewBox="568.2 25.3 13.4 17.7"><text class="h" transform="translate(570.4 36.3) scale(0.860 1)" font-size="5">Const</text></svg><svg x="582.2" y="25.3" width="15" height="17.7" viewBox="582.2 25.3 15 17.7"><text class="h" transform="translate(584.4 30.7) scale(0.860 1)" font-size="5">WBS</text></svg><text class="s" transform="translate(45 51.8) scale(0.950 1)" font-size="7.5">Section 11 - Structure of Bridge CKRE</text><text class="t w" transform="translate(288.8 49.55) scale(0.957 1)" font-size="5.1" text-anchor="end">147</text><text class="t w" transform="translate(307.5 49.55) scale(0.957 1)" font-size="5.1" text-anchor="middle">05-Dec-23 A</text><text class="t w" transform="translate(341.4 49.55) scale(0.957 1)" font-size="5.1" text-anchor="middle">02-Jul-24</text><text class="t w" transform="translate(375.5 49.55) scale(0.957 1)" font-size="5.1" text-anchor="middle">18-Nov-23</text><text class="t w" transform="translate(409.7 49.55) scale(0.957 1)" font-size="5.1" text-anchor="middle">22-Nov-25</text><text class="t w" transform="translate(444.6 49.55) scale(0.957 1)" font-size="5.1" text-anchor="end">413</text><text class="t w" transform="translate(473.6 49.55) scale(0.957 1)" font-size="5.1" text-anchor="end">11.00</text><text class="g" transform="translate(47.2 64.79) scale(0.905 1)" font-size="6.5">Sch_3.10 Bridge CKRE Works</text><text class="t" transform="translate(288.8 64.09) scale(0.957 1)" font-size="5.1" text-anchor="end" style="fill:#2a0c04;stroke:#2a0c04;">147</text><text class="t" transform="translate(307.5 64.09) scale(0.957 1)" font-size="5.1" text-anchor="middle" style="fill:#2a0c04;stroke:#2a0c04;">05-Dec-23 A</text><text class="t" transform="translate(341.4 64.09) scale(0.957 1)" font-size="5.1" text-anchor="middle" style="fill:#2a0c04;stroke:#2a0c04;">02-Jul-24</text><text class="t" transform="translate(375.5 64.09) scale(0.957 1)" font-size="5.1" text-anchor="middle" style="fill:#2a0c04;stroke:#2a0c04;">18-Nov-23</text><text class="t" transform="translate(409.7 64.09) scale(0.957 1)" font-size="5.1" text-anchor="middle" style="fill:#2a0c04;stroke:#2a0c04;">22-Nov-25</text><text class="t" transform="translate(444.6 64.09) scale(0.957 1)" font-size="5.1" text-anchor="end" style="fill:#2a0c04;stroke:#2a0c04;">413</text><text class="t" transform="translate(473.6 64.09) scale(0.957 1)" font-size="5.1" text-anchor="end" style="fill:#2a0c04;stroke:#2a0c04;">11.00</text><text class="g" transform="translate(49.6 79.33) scale(0.905 1)" font-size="6.5">CKRE - Pile Caps, Pier / Abutment</text><text class="t" transform="translate(288.8 78.63) scale(0.957 1)" font-size="5.1" text-anchor="end">9</text><text class="t" transform="translate(307.5 78.63) scale(0.957 1)" font-size="5.1" text-anchor="middle">05-Dec-23 A</text><text class="t" transform="translate(341.4 78.63) scale(0.957 1)" font-size="5.1" text-anchor="middle">06-Mar-24</text><text class="t" transform="translate(375.5 78.63) scale(0.957 1)" font-size="5.1" text-anchor="middle">18-Nov-23</text><text class="t" transform="translate(409.7 78.63) scale(0.957 1)" font-size="5.1" text-anchor="middle">28-Nov-23</text><text class="t" transform="translate(444.6 78.63) scale(0.957 1)" font-size="5.1" text-anchor="end">-76</text><text class="t" transform="translate(473.6 78.63) scale(0.957 1)" font-size="5.1" text-anchor="end">0.00</text><text class="g" transform="translate(52 93.87) scale(0.905 1)" font-size="6.5">Abutment A-K1-CKRE</text><text class="t" transform="translate(288.8 93.17) scale(0.957 1)" font-size="5.1" text-anchor="end">9</text><text class="t" transform="translate(307.5 93.17) scale(0.957 1)" font-size="5.1" text-anchor="middle">05-Dec-23 A</text><text class="t" transform="translate(341.4 93.17) scale(0.957 1)" font-size="5.1" text-anchor="middle">06-Mar-24</text><text class="t" transform="translate(375.5 93.17) scale(0.957 1)" font-size="5.1" text-anchor="middle">18-Nov-23</text><text class="t" transform="translate(409.7 93.17) scale(0.957 1)" font-size="5.1" text-anchor="middle">28-Nov-23</text><text class="t" transform="translate(444.6 93.17) scale(0.957 1)" font-size="5.1" text-anchor="end">-76</text><text class="t" transform="translate(473.6 93.17) scale(0.957 1)" font-size="5.1" text-anchor="end">0.00</text><text class="t" transform="translate(54.5 107.71) scale(1.020 1)" font-size="5.1">3.10-7538</text><text class="t" transform="translate(98.7 107.71) scale(0.908 1)" font-size="5.1">CKRE - A-K1-CKRE Install Permeatic Membrane and Backfill</text><text class="t" transform="translate(288.8 107.71) scale(0.957 1)" font-size="5.1" text-anchor="end">9</text><text class="t" transform="translate(307.5 107.71) scale(0.957 1)" font-size="5.1" text-anchor="middle">05-Dec-23 A</text><text class="t" transform="translate(341.4 107.71) scale(0.957 1)" font-size="5.1" text-anchor="middle">06-Mar-24</text><text class="t" transform="translate(375.5 107.71) scale(0.957 1)" font-size="5.1" text-anchor="middle">18-Nov-23</text><text class="t" transform="translate(409.7 107.71) scale(0.957 1)" font-size="5.1" text-anchor="middle">28-Nov-23</text><text class="t" transform="translate(444.6 107.71) scale(0.957 1)" font-size="5.1" text-anchor="end">-76</text><text class="t" transform="translate(473.6 107.71) scale(0.957 1)" font-size="5.1" text-anchor="end">0.00</text><text class="t" transform="translate(497.9 107.71) scale(0.957 1)" font-size="5.1" text-anchor="end">0%</text><text class="t" transform="translate(516.5 107.71) scale(0.957 1)" font-size="5.1" text-anchor="middle">0%</text><text class="t" transform="translate(535.3 107.71) scale(0.908 1)" font-size="5.1">Task</text><svg x="533.3" y="101.16" width="34.9" height="14.04" viewBox="533.3 101.16 34.9 14.04"><text class="t" transform="translate(535.3 114.21) scale(0.908 1)" font-size="5.1">Dependent</text></svg><svg x="582.2" y="101.16" width="14.8" height="14.54" viewBox="582.2 101.16 14.8 14.54"><text class="t" transform="translate(584.2 107.71) scale(0.957 1)" font-size="5.1">KTE-\</text></svg><text class="g" transform="translate(49.6 122.95) scale(0.905 1)" font-size="6.5">CKRE - Deck</text><text class="t" transform="translate(288.8 122.25) scale(0.957 1)" font-size="5.1" text-anchor="end">12</text><text class="t" transform="translate(307.5 122.25) scale(0.957 1)" font-size="5.1" text-anchor="middle">24-Jan-24 A</text><text class="t" transform="translate(341.4 122.25) scale(0.957 1)" font-size="5.1" text-anchor="middle">09-Mar-24</text><text class="t" transform="translate(375.5 122.25) scale(0.957 1)" font-size="5.1" text-anchor="middle">21-Dec-23</text><text class="t" transform="translate(409.7 122.25) scale(0.957 1)" font-size="5.1" text-anchor="middle">06-Jan-24</text><text class="t" transform="translate(444.6 122.25) scale(0.957 1)" font-size="5.1" text-anchor="end">-48</text><text class="t" transform="translate(473.6 122.25) scale(0.957 1)" font-size="5.1" text-anchor="end">0.00</text><text class="g" transform="translate(52 137.49) scale(0.905 1)" font-size="6.5">CKRE- Span K5-CKRE - K4-CKRE</text><text class="t" transform="translate(288.8 136.79) scale(0.957 1)" font-size="5.1" text-anchor="end">12</text><text class="t" transform="translate(307.5 136.79) scale(0.957 1)" font-size="5.1" text-anchor="middle">24-Jan-24 A</text><text class="t" transform="translate(341.4 136.79) scale(0.957 1)" font-size="5.1" text-anchor="middle">09-Mar-24</text><text class="t" transform="translate(375.5 136.79) scale(0.957 1)" font-size="5.1" text-anchor="middle">21-Dec-23</text><text class="t" transform="translate(409.7 136.79) scale(0.957 1)" font-size="5.1" text-anchor="middle">06-Jan-24</text><text class="t" transform="translate(444.6 136.79) scale(0.957 1)" font-size="5.1" text-anchor="end">-48</text><text class="t" transform="translate(473.6 136.79) scale(0.957 1)" font-size="5.1" text-anchor="end">0.00</text><text class="t" transform="translate(54.5 151.33) scale(1.020 1)" font-size="5.1">3.10-7607</text><text class="t" transform="translate(98.7 151.33) scale(0.908 1)" font-size="5.1">CKRE - Bridge CKRE Remove Falsework and Formwork</text><text class="t" transform="translate(288.8 151.33) scale(0.957 1)" font-size="5.1" text-anchor="end">12</text><text class="t" transform="translate(307.5 151.33) scale(0.957 1)" font-size="5.1" text-anchor="middle">24-Jan-24 A</text><text class="t" transform="translate(341.4 151.33) scale(0.957 1)" font-size="5.1" text-anchor="middle">09-Mar-24</text><text class="t" transform="translate(375.5 151.33) scale(0.957 1)" font-size="5.1" text-anchor="middle">21-Dec-23</text><text class="t" transform="translate(409.7 151.33) scale(0.957 1)" font-size="5.1" text-anchor="middle">06-Jan-24</text><text class="t" transform="translate(444.6 151.33) scale(0.957 1)" font-size="5.1" text-anchor="end">-48</text><text class="t" transform="translate(497.9 151.33) scale(0.957 1)" font-size="5.1" text-anchor="end">0%</text><text class="t" transform="translate(516.5 151.33) scale(0.957 1)" font-size="5.1" text-anchor="middle">0%</text><text class="t" transform="translate(535.3 151.33) scale(0.908 1)" font-size="5.1">Task</text><svg x="533.3" y="144.78" width="34.9" height="14.04" viewBox="533.3 144.78 34.9 14.04"><text class="t" transform="translate(535.3 157.83) scale(0.908 1)" font-size="5.1">Dependent</text></svg><svg x="582.2" y="144.78" width="14.8" height="14.54" viewBox="582.2 144.78 14.8 14.54"><text class="t" transform="translate(584.2 151.33) scale(0.957 1)" font-size="5.1">KTE-\</text></svg><text class="g" transform="translate(49.6 166.57) scale(0.905 1)" font-size="6.5">CKRE - Miscellaneous Works</text><text class="t" transform="translate(288.8 165.87) scale(0.957 1)" font-size="5.1" text-anchor="end">138</text><text class="t" transform="translate(307.5 165.87) scale(0.957 1)" font-size="5.1" text-anchor="middle">02-Jan-24 A</text><text class="t" transform="translate(341.4 165.87) scale(0.957 1)" font-size="5.1" text-anchor="middle">02-Jul-24</text><text class="t" transform="translate(375.5 165.87) scale(0.957 1)" font-size="5.1" text-anchor="middle">29-Nov-23</text><text class="t" transform="translate(409.7 165.87) scale(0.957 1)" font-size="5.1" text-anchor="middle">22-Nov-25</text><text class="t" transform="translate(444.6 165.87) scale(0.957 1)" font-size="5.1" text-anchor="end">413</text><text class="t" transform="translate(473.6 165.87) scale(0.957 1)" font-size="5.1" text-anchor="end">11.00</text><text class="g" transform="translate(52 181.11) scale(0.905 1)" font-size="6.5">CKRE - Works for Section 11</text><text class="t" transform="translate(288.8 180.41) scale(0.957 1)" font-size="5.1" text-anchor="end">108</text><text class="t" transform="translate(307.5 180.41) scale(0.957 1)" font-size="5.1" text-anchor="middle">02-Jan-24 A</text><text class="t" transform="translate(341.4 180.41) scale(0.957 1)" font-size="5.1" text-anchor="middle">25-May-24</text><text class="t" transform="translate(375.5 180.41) scale(0.957 1)" font-size="5.1" text-anchor="middle">29-Nov-23</text><text class="t" transform="translate(409.7 180.41) scale(0.957 1)" font-size="5.1" text-anchor="middle">22-Nov-25</text><text class="t" transform="translate(444.6 180.41) scale(0.957 1)" font-size="5.1" text-anchor="end">443</text><text class="t" transform="translate(473.6 180.41) scale(0.957 1)" font-size="5.1" text-anchor="end">5.00</text><text class="t" transform="translate(54.5 194.94) scale(1.020 1)" font-size="5.1">3.10-7613</text><text class="t" transform="translate(98.7 194.94) scale(0.908 1)" font-size="5.1">CKRE - End wall construction (Abutment)</text><text class="t" transform="translate(288.8 194.94) scale(0.957 1)" font-size="5.1" text-anchor="end">24</text><text class="t" transform="translate(307.5 194.94) scale(0.957 1)" font-size="5.1" text-anchor="middle">02-Jan-24 A</text><text class="t" transform="translate(341.4 194.94) scale(0.957 1)" font-size="5.1" text-anchor="middle">31-Jan-24 A</text><text class="t" transform="translate(375.5 194.94) scale(0.957 1)" font-size="5.1" text-anchor="middle">22-Jan-24</text><text class="t" transform="translate(409.7 194.94) scale(0.957 1)" font-size="5.1" text-anchor="middle">22-Jan-24</text><text class="t" transform="translate(497.9 194.94) scale(0.957 1)" font-size="5.1" text-anchor="end">100%</text><text class="t" transform="translate(516.5 194.94) scale(0.957 1)" font-size="5.1" text-anchor="middle">100%</text><text class="t" transform="translate(535.3 194.94) scale(0.908 1)" font-size="5.1">Task</text><svg x="533.3" y="188.39" width="34.9" height="14.04" viewBox="533.3 188.39 34.9 14.04"><text class="t" transform="translate(535.3 201.44) scale(0.908 1)" font-size="5.1">Dependent</text></svg><svg x="582.2" y="188.39" width="14.8" height="14.54" viewBox="582.2 188.39 14.8 14.54"><text class="t" transform="translate(584.2 194.94) scale(0.957 1)" font-size="5.1">KTE-\</text></svg><text class="t" transform="translate(54.5 209.48) scale(1.020 1)" font-size="5.1">3.10-7608</text><text class="t" transform="translate(98.7 209.48) scale(0.908 1)" font-size="5.1">BEM - CKRE - Install Parapet Wall / TCSS duct (L)</text><text class="t" transform="translate(288.8 209.48) scale(0.957 1)" font-size="5.1" text-anchor="end">39</text><text class="t" transform="translate(307.5 209.48) scale(0.957 1)" font-size="5.1" text-anchor="middle">07-Feb-24 A</text><text class="t" transform="translate(341.4 209.48) scale(0.957 1)" font-size="5.1" text-anchor="middle">25-Apr-24</text><text class="t" transform="translate(375.5 209.48) scale(0.957 1)" font-size="5.1" text-anchor="middle">29-Nov-23</text><text class="t" transform="translate(409.7 209.48) scale(0.957 1)" font-size="5.1" text-anchor="middle">16-Jan-24</text><text class="t" transform="translate(444.6 209.48) scale(0.957 1)" font-size="5.1" text-anchor="end">-76</text><text class="t" transform="translate(473.6 209.48) scale(0.957 1)" font-size="5.1" text-anchor="end">3.00</text><text class="t" transform="translate(497.9 209.48) scale(0.957 1)" font-size="5.1" text-anchor="end">0%</text><text class="t" transform="translate(516.5 209.48) scale(0.957 1)" font-size="5.1" text-anchor="middle">0%</text><text class="t" transform="translate(535.3 209.48) scale(0.908 1)" font-size="5.1">Task</text><svg x="533.3" y="202.93" width="34.9" height="14.04" viewBox="533.3 202.93 34.9 14.04"><text class="t" transform="translate(535.3 215.98) scale(0.908 1)" font-size="5.1">Dependent</text></svg><svg x="582.2" y="202.93" width="14.8" height="14.54" viewBox="582.2 202.93 14.8 14.54"><text class="t" transform="translate(584.2 209.48) scale(0.957 1)" font-size="5.1">KTE-\</text></svg><text class="t" transform="translate(54.5 224.02) scale(1.020 1)" font-size="5.1">3.10-7617</text><text class="t" transform="translate(98.7 224.02) scale(0.908 1)" font-size="5.1">CKRE - Preparation for haul road</text><text class="t" transform="translate(288.8 224.02) scale(0.957 1)" font-size="5.1" text-anchor="end">3</text><text class="t" transform="translate(307.5 224.02) scale(0.957 1)" font-size="5.1" text-anchor="middle">26-Feb-24</text><text class="t" transform="translate(341.4 224.02) scale(0.957 1)" font-size="5.1" text-anchor="middle">28-Feb-24</text><text class="t" transform="translate(375.5 224.02) scale(0.957 1)" font-size="5.1" text-anchor="middle">20-Nov-25</text><text class="t" transform="translate(409.7 224.02) scale(0.957 1)" font-size="5.1" text-anchor="middle">22-Nov-25</text><text class="t" transform="translate(444.6 224.02) scale(0.957 1)" font-size="5.1" text-anchor="end">512</text><text class="t" transform="translate(497.9 224.02) scale(0.957 1)" font-size="5.1" text-anchor="end">0%</text><text class="t" transform="translate(516.5 224.02) scale(0.957 1)" font-size="5.1" text-anchor="middle">0%</text><text class="t" transform="translate(535.3 224.02) scale(0.908 1)" font-size="5.1">Task</text><svg x="533.3" y="217.47" width="34.9" height="14.04" viewBox="533.3 217.47 34.9 14.04"><text class="t" transform="translate(535.3 230.52) scale(0.908 1)" font-size="5.1">Dependent</text></svg><svg x="582.2" y="217.47" width="14.8" height="14.54" viewBox="582.2 217.47 14.8 14.54"><text class="t" transform="translate(584.2 224.02) scale(0.957 1)" font-size="5.1">KTE-\</text></svg><text class="t" transform="translate(54.5 238.56) scale(1.020 1)" font-size="5.1">3.10-7618</text><text class="t" transform="translate(98.7 238.56) scale(0.908 1)" font-size="5.1">CKRE - Opening to Interfacing Contractors</text><text class="t" transform="translate(288.8 238.56) scale(0.957 1)" font-size="5.1" text-anchor="end">0</text><text class="t" transform="translate(341.4 238.56) scale(0.957 1)" font-size="5.1" text-anchor="middle">28-Feb-24</text><text class="t" transform="translate(409.7 238.56) scale(0.957 1)" font-size="5.1" text-anchor="middle">22-Nov-25</text><text class="t" transform="translate(444.6 238.56) scale(0.957 1)" font-size="5.1" text-anchor="end">512</text><text class="t" transform="translate(497.9 238.56) scale(0.957 1)" font-size="5.1" text-anchor="end">0%</text><text class="t" transform="translate(516.5 238.56) scale(0.957 1)" font-size="5.1" text-anchor="middle">0%</text><text class="t" transform="translate(535.3 238.56) scale(0.908 1)" font-size="5.1">Finish</text><svg x="533.3" y="232.01" width="34.9" height="14.04" viewBox="533.3 232.01 34.9 14.04"><text class="t" transform="translate(535.3 245.06) scale(0.908 1)" font-size="5.1">Milestone</text></svg><svg x="582.2" y="232.01" width="14.8" height="14.54" viewBox="582.2 232.01 14.8 14.54"><text class="t" transform="translate(584.2 238.56) scale(0.957 1)" font-size="5.1">KTE-\</text></svg><text class="t" transform="translate(54.5 253.1) scale(1.020 1)" font-size="5.1">3.10-7612</text><text class="t" transform="translate(98.7 253.1) scale(0.908 1)" font-size="5.1">CKRE - Movement Joint</text><text class="t" transform="translate(288.8 253.1) scale(0.957 1)" font-size="5.1" text-anchor="end">12</text><text class="t" transform="translate(307.5 253.1) scale(0.957 1)" font-size="5.1" text-anchor="middle">17-Apr-24</text><text class="t" transform="translate(341.4 253.1) scale(0.957 1)" font-size="5.1" text-anchor="middle">30-Apr-24</text><text class="t" transform="translate(375.5 253.1) scale(0.957 1)" font-size="5.1" text-anchor="middle">08-Jan-24</text><text class="t" transform="translate(409.7 253.1) scale(0.957 1)" font-size="5.1" text-anchor="middle">20-Jan-24</text><text class="t" transform="translate(444.6 253.1) scale(0.957 1)" font-size="5.1" text-anchor="end">-76</text><text class="t" transform="translate(473.6 253.1) scale(0.957 1)" font-size="5.1" text-anchor="end">2.00</text><text class="t" transform="translate(497.9 253.1) scale(0.957 1)" font-size="5.1" text-anchor="end">0%</text><text class="t" transform="translate(516.5 253.1) scale(0.957 1)" font-size="5.1" text-anchor="middle">0%</text><text class="t" transform="translate(535.3 253.1) scale(0.908 1)" font-size="5.1">Task</text><svg x="533.3" y="246.55" width="34.9" height="14.04" viewBox="533.3 246.55 34.9 14.04"><text class="t" transform="translate(535.3 259.6) scale(0.908 1)" font-size="5.1">Dependent</text></svg><svg x="582.2" y="246.55" width="14.8" height="14.54" viewBox="582.2 246.55 14.8 14.54"><text class="t" transform="translate(584.2 253.1) scale(0.957 1)" font-size="5.1">KTE-\</text></svg><text class="t" transform="translate(54.5 267.64) scale(1.020 1)" font-size="5.1">3.10-7614</text><text class="t" transform="translate(98.7 267.64) scale(0.908 1)" font-size="5.1">CKRE - Road pavement; Road marking</text><text class="t" transform="translate(288.8 267.64) scale(0.957 1)" font-size="5.1" text-anchor="end">6</text><text class="t" transform="translate(307.5 267.64) scale(0.957 1)" font-size="5.1" text-anchor="middle">02-May-24</text><text class="t" transform="translate(341.4 267.64) scale(0.957 1)" font-size="5.1" text-anchor="middle">08-May-24</text><text class="t" transform="translate(375.5 267.64) scale(0.957 1)" font-size="5.1" text-anchor="middle">22-Jan-24</text><text class="t" transform="translate(409.7 267.64) scale(0.957 1)" font-size="5.1" text-anchor="middle">27-Jan-24</text><text class="t" transform="translate(444.6 267.64) scale(0.957 1)" font-size="5.1" text-anchor="end">-76</text><text class="t" transform="translate(473.6 267.64) scale(0.957 1)" font-size="5.1" text-anchor="end">0.00</text><text class="t" transform="translate(497.9 267.64) scale(0.957 1)" font-size="5.1" text-anchor="end">0%</text><text class="t" transform="translate(516.5 267.64) scale(0.957 1)" font-size="5.1" text-anchor="middle">0%</text><text class="t" transform="translate(535.3 267.64) scale(0.908 1)" font-size="5.1">Task</text><svg x="533.3" y="261.09" width="34.9" height="14.04" viewBox="533.3 261.09 34.9 14.04"><text class="t" transform="translate(535.3 274.14) scale(0.908 1)" font-size="5.1">Dependent</text></svg><svg x="582.2" y="261.09" width="14.8" height="14.54" viewBox="582.2 261.09 14.8 14.54"><text class="t" transform="translate(584.2 267.64) scale(0.957 1)" font-size="5.1">KTE-\</text></svg><text class="t" transform="translate(54.5 282.18) scale(1.020 1)" font-size="5.1">3.10-7616</text><text class="t" transform="translate(98.7 282.18) scale(0.908 1)" font-size="5.1">CKRE - Final completion works</text><text class="t" transform="translate(288.8 282.18) scale(0.957 1)" font-size="5.1" text-anchor="end">14</text><text class="t" transform="translate(307.5 282.18) scale(0.957 1)" font-size="5.1" text-anchor="middle">09-May-24</text><text class="t" transform="translate(341.4 282.18) scale(0.957 1)" font-size="5.1" text-anchor="middle">25-May-24</text><text class="t" transform="translate(375.5 282.18) scale(0.957 1)" font-size="5.1" text-anchor="middle">29-Jan-24</text><text class="t" transform="translate(409.7 282.18) scale(0.957 1)" font-size="5.1" text-anchor="middle">20-Feb-24</text><text class="t" transform="translate(444.6 282.18) scale(0.957 1)" font-size="5.1" text-anchor="end">-76</text><text class="t" transform="translate(473.6 282.18) scale(0.957 1)" font-size="5.1" text-anchor="end">0.00</text><text class="t" transform="translate(497.9 282.18) scale(0.957 1)" font-size="5.1" text-anchor="end">0%</text><text class="t" transform="translate(516.5 282.18) scale(0.957 1)" font-size="5.1" text-anchor="middle">0%</text><text class="t" transform="translate(535.3 282.18) scale(0.908 1)" font-size="5.1">Task</text><svg x="533.3" y="275.63" width="34.9" height="14.04" viewBox="533.3 275.63 34.9 14.04"><text class="t" transform="translate(535.3 288.68) scale(0.908 1)" font-size="5.1">Dependent</text></svg><svg x="582.2" y="275.63" width="14.8" height="14.54" viewBox="582.2 275.63 14.8 14.54"><text class="t" transform="translate(584.2 282.18) scale(0.957 1)" font-size="5.1">KTE-\</text></svg><text class="g" transform="translate(52 297.42) scale(0.905 1)" font-size="6.5">CKRE - Remaining Works</text><text class="t" transform="translate(288.8 296.72) scale(0.957 1)" font-size="5.1" text-anchor="end">90</text><text class="t" transform="translate(307.5 296.72) scale(0.957 1)" font-size="5.1" text-anchor="middle">11-Mar-24</text><text class="t" transform="translate(341.4 296.72) scale(0.957 1)" font-size="5.1" text-anchor="middle">02-Jul-24</text><text class="t" transform="translate(375.5 296.72) scale(0.957 1)" font-size="5.1" text-anchor="middle">23-Feb-24</text><text class="t" transform="translate(409.7 296.72) scale(0.957 1)" font-size="5.1" text-anchor="middle">22-Nov-24</text><text class="t" transform="translate(444.6 296.72) scale(0.957 1)" font-size="5.1" text-anchor="end">120</text><text class="t" transform="translate(473.6 296.72) scale(0.957 1)" font-size="5.1" text-anchor="end">6.00</text><text class="t" transform="translate(54.5 311.26) scale(1.020 1)" font-size="5.1">3.10-7610a</text><text class="t" transform="translate(98.7 311.26) scale(0.908 1)" font-size="5.1">CKRE - Sign Gantry Plinth G22 in end wall</text><text class="t" transform="translate(288.8 311.26) scale(0.957 1)" font-size="5.1" text-anchor="end">14</text><text class="t" transform="translate(307.5 311.26) scale(0.957 1)" font-size="5.1" text-anchor="middle">11-Mar-24</text><text class="t" transform="translate(341.4 311.26) scale(0.957 1)" font-size="5.1" text-anchor="middle">26-Mar-24</text><text class="t" transform="translate(375.5 311.26) scale(0.957 1)" font-size="5.1" text-anchor="middle">23-Feb-24</text><text class="t" transform="translate(409.7 311.26) scale(0.957 1)" font-size="5.1" text-anchor="middle">09-Mar-24</text><text class="t" transform="translate(444.6 311.26) scale(0.957 1)" font-size="5.1" text-anchor="end">-14</text><text class="t" transform="translate(497.9 311.26) scale(0.957 1)" font-size="5.1" text-anchor="end">0%</text><text class="t" transform="translate(516.5 311.26) scale(0.957 1)" font-size="5.1" text-anchor="middle">0%</text><text class="t" transform="translate(535.3 311.26) scale(0.908 1)" font-size="5.1">Task</text><svg x="533.3" y="304.71" width="34.9" height="14.04" viewBox="533.3 304.71 34.9 14.04"><text class="t" transform="translate(535.3 317.76) scale(0.908 1)" font-size="5.1">Dependent</text></svg><svg x="582.2" y="304.71" width="14.8" height="14.54" viewBox="582.2 304.71 14.8 14.54"><text class="t" transform="translate(584.2 311.26) scale(0.957 1)" font-size="5.1">KTE-\</text></svg><text class="t" transform="translate(54.5 325.8) scale(1.020 1)" font-size="5.1">3.10-7610</text><text class="t" transform="translate(98.7 325.8) scale(0.908 1)" font-size="5.1">CKRE - Bridge Drainage Works</text><text class="t" transform="translate(288.8 325.8) scale(0.957 1)" font-size="5.1" text-anchor="end">26</text><text class="t" transform="translate(307.5 325.8) scale(0.957 1)" font-size="5.1" text-anchor="middle">26-Apr-24</text><text class="t" transform="translate(341.4 325.8) scale(0.957 1)" font-size="5.1" text-anchor="middle">28-May-24</text><text class="t" transform="translate(375.5 325.8) scale(0.957 1)" font-size="5.1" text-anchor="middle">19-Sep-24</text><text class="t" transform="translate(409.7 325.8) scale(0.957 1)" font-size="5.1" text-anchor="middle">21-Oct-24</text><text class="t" transform="translate(444.6 325.8) scale(0.957 1)" font-size="5.1" text-anchor="end">120</text><text class="t" transform="translate(473.6 325.8) scale(0.957 1)" font-size="5.1" text-anchor="end">2.00</text><text class="t" transform="translate(497.9 325.8) scale(0.957 1)" font-size="5.1" text-anchor="end">0%</text><text class="t" transform="translate(516.5 325.8) scale(0.957 1)" font-size="5.1" text-anchor="middle">0%</text><text class="t" transform="translate(535.3 325.8) scale(0.908 1)" font-size="5.1">Task</text><svg x="533.3" y="319.25" width="34.9" height="14.04" viewBox="533.3 319.25 34.9 14.04"><text class="t" transform="translate(535.3 332.3) scale(0.908 1)" font-size="5.1">Dependent</text></svg><svg x="582.2" y="319.25" width="14.8" height="14.54" viewBox="582.2 319.25 14.8 14.54"><text class="t" transform="translate(584.2 325.8) scale(0.957 1)" font-size="5.1">KTE-\</text></svg><text class="t" transform="translate(54.5 340.34) scale(1.020 1)" font-size="5.1">3.10-7620</text><text class="t" transform="translate(98.7 340.34) scale(0.908 1)" font-size="5.1">CKRE - Road Lighting and Road Furniture</text><text class="t" transform="translate(288.8 340.34) scale(0.957 1)" font-size="5.1" text-anchor="end">28</text><text class="t" transform="translate(307.5 340.34) scale(0.957 1)" font-size="5.1" text-anchor="middle">29-Apr-24</text><text class="t" transform="translate(341.4 340.34) scale(0.957 1)" font-size="5.1" text-anchor="middle">01-Jun-24</text><text class="t" transform="translate(375.5 340.34) scale(0.957 1)" font-size="5.1" text-anchor="middle">21-Sep-24</text><text class="t" transform="translate(409.7 340.34) scale(0.957 1)" font-size="5.1" text-anchor="middle">25-Oct-24</text><text class="t" transform="translate(444.6 340.34) scale(0.957 1)" font-size="5.1" text-anchor="end">120</text><text class="t" transform="translate(473.6 340.34) scale(0.957 1)" font-size="5.1" text-anchor="end">4.00</text><text class="t" transform="translate(497.9 340.34) scale(0.957 1)" font-size="5.1" text-anchor="end">0%</text><text class="t" transform="translate(516.5 340.34) scale(0.957 1)" font-size="5.1" text-anchor="middle">0%</text><text class="t" transform="translate(535.3 340.34) scale(0.908 1)" font-size="5.1">Task</text><svg x="533.3" y="333.79" width="34.9" height="14.04" viewBox="533.3 333.79 34.9 14.04"><text class="t" transform="translate(535.3 346.84) scale(0.908 1)" font-size="5.1">Dependent</text></svg><svg x="582.2" y="333.79" width="14.8" height="14.54" viewBox="582.2 333.79 14.8 14.54"><text class="t" transform="translate(584.2 340.34) scale(0.957 1)" font-size="5.1">KTE-\</text></svg><text class="t" transform="translate(54.5 354.88) scale(1.020 1)" font-size="5.1">3.10-7622</text><text class="t" transform="translate(98.7 354.88) scale(0.908 1)" font-size="5.1">CKRE - Final completion works</text><text class="t" transform="translate(288.8 354.88) scale(0.957 1)" font-size="5.1" text-anchor="end">24</text><text class="t" transform="translate(307.5 354.88) scale(0.957 1)" font-size="5.1" text-anchor="middle">03-Jun-24</text><text class="t" transform="translate(341.4 354.88) scale(0.957 1)" font-size="5.1" text-anchor="middle">02-Jul-24</text><text class="t" transform="translate(375.5 354.88) scale(0.957 1)" font-size="5.1" text-anchor="middle">26-Oct-24</text><text class="t" transform="translate(409.7 354.88) scale(0.957 1)" font-size="5.1" text-anchor="middle">22-Nov-24</text><text class="t" transform="translate(444.6 354.88) scale(0.957 1)" font-size="5.1" text-anchor="end">120</text><text class="t" transform="translate(473.6 354.88) scale(0.957 1)" font-size="5.1" text-anchor="end">0.00</text><text class="t" transform="translate(497.9 354.88) scale(0.957 1)" font-size="5.1" text-anchor="end">0%</text><text class="t" transform="translate(516.5 354.88) scale(0.957 1)" font-size="5.1" text-anchor="middle">0%</text><text class="t" transform="translate(535.3 354.88) scale(0.908 1)" font-size="5.1">Task</text><svg x="533.3" y="348.33" width="34.9" height="14.04" viewBox="533.3 348.33 34.9 14.04"><text class="t" transform="translate(535.3 361.38) scale(0.908 1)" font-size="5.1">Dependent</text></svg><svg x="582.2" y="348.33" width="14.8" height="14.54" viewBox="582.2 348.33 14.8 14.54"><text class="t" transform="translate(584.2 354.88) scale(0.957 1)" font-size="5.1">KTE-\</text></svg><text class="s" transform="translate(45 371.67) scale(0.950 1)" font-size="7.5">Section 12 - Underpass S21</text><text class="t w" transform="translate(288.8 369.42) scale(0.957 1)" font-size="5.1" text-anchor="end">377</text><text class="t w" transform="translate(307.5 369.42) scale(0.957 1)" font-size="5.1" text-anchor="middle">01-Nov-22 A</text><text class="t w" transform="translate(341.4 369.42) scale(0.957 1)" font-size="5.1" text-anchor="middle">23-Jul-24</text><text class="t w" transform="translate(375.5 369.42) scale(0.957 1)" font-size="5.1" text-anchor="middle">04-Mar-24</text><text class="t w" transform="translate(409.7 369.42) scale(0.957 1)" font-size="5.1" text-anchor="middle">18-Sep-26</text><text class="t w" transform="translate(444.6 369.42) scale(0.957 1)" font-size="5.1" text-anchor="end">650</text><text class="t w" transform="translate(473.6 369.42) scale(0.957 1)" font-size="5.1" text-anchor="end">23.00</text><text class="g" transform="translate(47.2 384.66) scale(0.905 1)" font-size="6.5">Sch_4.3 Slip Road Underpass S21</text><text class="t" transform="translate(288.8 383.96) scale(0.957 1)" font-size="5.1" text-anchor="end" style="fill:#2a0c04;stroke:#2a0c04;">377</text><text class="t" transform="translate(307.5 383.96) scale(0.957 1)" font-size="5.1" text-anchor="middle" style="fill:#2a0c04;stroke:#2a0c04;">01-Nov-22 A</text><text class="t" transform="translate(341.4 383.96) scale(0.957 1)" font-size="5.1" text-anchor="middle" style="fill:#2a0c04;stroke:#2a0c04;">23-Jul-24</text><text class="t" transform="translate(375.5 383.96) scale(0.957 1)" font-size="5.1" text-anchor="middle" style="fill:#2a0c04;stroke:#2a0c04;">04-Mar-24</text><text class="t" transform="translate(409.7 383.96) scale(0.957 1)" font-size="5.1" text-anchor="middle" style="fill:#2a0c04;stroke:#2a0c04;">18-Sep-26</text><text class="t" transform="translate(444.6 383.96) scale(0.957 1)" font-size="5.1" text-anchor="end" style="fill:#2a0c04;stroke:#2a0c04;">650</text><text class="t" transform="translate(473.6 383.96) scale(0.957 1)" font-size="5.1" text-anchor="end" style="fill:#2a0c04;stroke:#2a0c04;">23.00</text><text class="g" transform="translate(49.6 399.2) scale(0.905 1)" font-size="6.5">S21 - RC Structure</text><text class="t" transform="translate(288.8 398.5) scale(0.957 1)" font-size="5.1" text-anchor="end">12</text><text class="t" transform="translate(307.5 398.5) scale(0.957 1)" font-size="5.1" text-anchor="middle">26-Feb-24</text><text class="t" transform="translate(341.4 398.5) scale(0.957 1)" font-size="5.1" text-anchor="middle">09-Mar-24</text><text class="t" transform="translate(375.5 398.5) scale(0.957 1)" font-size="5.1" text-anchor="middle">05-Sep-26</text><text class="t" transform="translate(409.7 398.5) scale(0.957 1)" font-size="5.1" text-anchor="middle">18-Sep-26</text><text class="t" transform="translate(444.6 398.5) scale(0.957 1)" font-size="5.1" text-anchor="end">758</text><text class="t" transform="translate(473.6 398.5) scale(0.957 1)" font-size="5.1" text-anchor="end">2.00</text><text class="g" transform="translate(52 413.74) scale(0.905 1)" font-size="6.5">S21 - U-Trough Sections - South (CH000 to CH143.981)</text><text class="t" transform="translate(288.8 413.04) scale(0.957 1)" font-size="5.1" text-anchor="end">12</text><text class="t" transform="translate(307.5 413.04) scale(0.957 1)" font-size="5.1" text-anchor="middle">26-Feb-24</text><text class="t" transform="translate(341.4 413.04) scale(0.957 1)" font-size="5.1" text-anchor="middle">09-Mar-24</text><text class="t" transform="translate(375.5 413.04) scale(0.957 1)" font-size="5.1" text-anchor="middle">05-Sep-26</text><text class="t" transform="translate(409.7 413.04) scale(0.957 1)" font-size="5.1" text-anchor="middle">18-Sep-26</text><text class="t" transform="translate(444.6 413.04) scale(0.957 1)" font-size="5.1" text-anchor="end">758</text><text class="t" transform="translate(473.6 413.04) scale(0.957 1)" font-size="5.1" text-anchor="end">0.00</text><text class="g w" transform="translate(54.4 428.28) scale(0.885 1)" font-size="6.5">S21 - Bay B2-10 - At Grade Slab (CH009.276 to 000)</text><text class="t w" transform="translate(288.8 427.58) scale(0.957 1)" font-size="5.1" text-anchor="end" style="fill-opacity:.75;">12</text><text class="t w" transform="translate(307.5 427.58) scale(0.957 1)" font-size="5.1" text-anchor="middle" style="fill-opacity:.75;">26-Feb-24</text><text class="t w" transform="translate(341.4 427.58) scale(0.957 1)" font-size="5.1" text-anchor="middle" style="fill-opacity:.75;">09-Mar-24</text><text class="t w" transform="translate(375.5 427.58) scale(0.957 1)" font-size="5.1" text-anchor="middle" style="fill-opacity:.75;">05-Sep-26</text><text class="t w" transform="translate(409.7 427.58) scale(0.957 1)" font-size="5.1" text-anchor="middle" style="fill-opacity:.75;">18-Sep-26</text><text class="t w" transform="translate(444.6 427.58) scale(0.957 1)" font-size="5.1" text-anchor="end" style="fill-opacity:.75;">758</text><text class="t w" transform="translate(473.6 427.58) scale(0.957 1)" font-size="5.1" text-anchor="end" style="fill-opacity:.75;">0.00</text><text class="t" transform="translate(57 442.12) scale(1.020 1)" font-size="5.1">4-7812</text><text class="t" transform="translate(98.7 442.12) scale(0.908 1)" font-size="5.1">S21-B2-10 - Construct At Grade slab</text><text class="t" transform="translate(288.8 442.12) scale(0.957 1)" font-size="5.1" text-anchor="end">12</text><text class="t" transform="translate(307.5 442.12) scale(0.957 1)" font-size="5.1" text-anchor="middle">26-Feb-24</text><text class="t" transform="translate(341.4 442.12) scale(0.957 1)" font-size="5.1" text-anchor="middle">09-Mar-24</text><text class="t" transform="translate(375.5 442.12) scale(0.957 1)" font-size="5.1" text-anchor="middle">05-Sep-26</text><text class="t" transform="translate(409.7 442.12) scale(0.957 1)" font-size="5.1" text-anchor="middle">18-Sep-26</text><text class="t" transform="translate(444.6 442.12) scale(0.957 1)" font-size="5.1" text-anchor="end">758</text><text class="t" transform="translate(473.6 442.12) scale(0.957 1)" font-size="5.1" text-anchor="end">0.00</text><text class="t" transform="translate(497.9 442.12) scale(0.957 1)" font-size="5.1" text-anchor="end">0%</text><text class="t" transform="translate(516.5 442.12) scale(0.957 1)" font-size="5.1" text-anchor="middle">0%</text><text class="t" transform="translate(535.3 442.12) scale(0.908 1)" font-size="5.1">Task</text><svg x="533.3" y="435.57" width="34.9" height="14.04" viewBox="533.3 435.57 34.9 14.04"><text class="t" transform="translate(535.3 448.62) scale(0.908 1)" font-size="5.1">Dependent</text></svg><svg x="582.2" y="435.57" width="14.8" height="14.54" viewBox="582.2 435.57 14.8 14.54"><text class="t" transform="translate(584.2 442.12) scale(0.957 1)" font-size="5.1">KTE-\</text></svg><text class="g" transform="translate(52 457.36) scale(0.905 1)" font-size="6.5">S21 - U-Trough Sections - North (CH205.700 to CH354.957)</text><text class="t" transform="translate(288.8 456.66) scale(0.957 1)" font-size="5.1" text-anchor="end">12</text><text class="t" transform="translate(307.5 456.66) scale(0.957 1)" font-size="5.1" text-anchor="middle">26-Feb-24</text><text class="t" transform="translate(341.4 456.66) scale(0.957 1)" font-size="5.1" text-anchor="middle">09-Mar-24</text><text class="t" transform="translate(375.5 456.66) scale(0.957 1)" font-size="5.1" text-anchor="middle">05-Sep-26</text><text class="t" transform="translate(409.7 456.66) scale(0.957 1)" font-size="5.1" text-anchor="middle">18-Sep-26</text><text class="t" transform="translate(444.6 456.66) scale(0.957 1)" font-size="5.1" text-anchor="end">758</text><text class="t" transform="translate(473.6 456.66) scale(0.957 1)" font-size="5.1" text-anchor="end">2.00</text><text class="g w" transform="translate(54.4 471.89) scale(0.885 1)" font-size="6.5">S21 - Bay B3-9 - At Grade Slab Part 3E (CH321.11 to 354.957) Part 3E</text><text class="t w" transform="translate(288.8 471.19) scale(0.957 1)" font-size="5.1" text-anchor="end" style="fill-opacity:.75;">12</text><text class="t w" transform="translate(307.5 471.19) scale(0.957 1)" font-size="5.1" text-anchor="middle" style="fill-opacity:.75;">26-Feb-24</text><text class="t w" transform="translate(341.4 471.19) scale(0.957 1)" font-size="5.1" text-anchor="middle" style="fill-opacity:.75;">09-Mar-24</text><text class="t w" transform="translate(375.5 471.19) scale(0.957 1)" font-size="5.1" text-anchor="middle" style="fill-opacity:.75;">05-Sep-26</text><text class="t w" transform="translate(409.7 471.19) scale(0.957 1)" font-size="5.1" text-anchor="middle" style="fill-opacity:.75;">18-Sep-26</text><text class="t w" transform="translate(444.6 471.19) scale(0.957 1)" font-size="5.1" text-anchor="end" style="fill-opacity:.75;">758</text><text class="t w" transform="translate(473.6 471.19) scale(0.957 1)" font-size="5.1" text-anchor="end" style="fill-opacity:.75;">2.00</text><text class="t" transform="translate(57 485.73) scale(1.020 1)" font-size="5.1">4-7868</text><text class="t" transform="translate(98.7 485.73) scale(0.908 1)" font-size="5.1">S21-B3-9 - Construct At Grade slab</text><text class="t" transform="translate(288.8 485.73) scale(0.957 1)" font-size="5.1" text-anchor="end">12</text><text class="t" transform="translate(307.5 485.73) scale(0.957 1)" font-size="5.1" text-anchor="middle">26-Feb-24</text><text class="t" transform="translate(341.4 485.73) scale(0.957 1)" font-size="5.1" text-anchor="middle">09-Mar-24</text><text class="t" transform="translate(375.5 485.73) scale(0.957 1)" font-size="5.1" text-anchor="middle">05-Sep-26</text><text class="t" transform="translate(409.7 485.73) scale(0.957 1)" font-size="5.1" text-anchor="middle">18-Sep-26</text><text class="t" transform="translate(444.6 485.73) scale(0.957 1)" font-size="5.1" text-anchor="end">758</text><text class="t" transform="translate(473.6 485.73) scale(0.957 1)" font-size="5.1" text-anchor="end">2.00</text><text class="t" transform="translate(497.9 485.73) scale(0.957 1)" font-size="5.1" text-anchor="end">0%</text><text class="t" transform="translate(516.5 485.73) scale(0.957 1)" font-size="5.1" text-anchor="middle">0%</text><text class="t" transform="translate(535.3 485.73) scale(0.908 1)" font-size="5.1">Task</text><svg x="533.3" y="479.18" width="34.9" height="14.04" viewBox="533.3 479.18 34.9 14.04"><text class="t" transform="translate(535.3 492.23) scale(0.908 1)" font-size="5.1">Dependent</text></svg><svg x="582.2" y="479.18" width="14.8" height="14.54" viewBox="582.2 479.18 14.8 14.54"><text class="t" transform="translate(584.2 485.73) scale(0.957 1)" font-size="5.1">KTE-\</text></svg><text class="g" transform="translate(49.6 500.97) scale(0.905 1)" font-size="6.5">S21 - Miscellaneous Works</text><text class="t" transform="translate(288.8 500.27) scale(0.957 1)" font-size="5.1" text-anchor="end">377</text><text class="t" transform="translate(307.5 500.27) scale(0.957 1)" font-size="5.1" text-anchor="middle">01-Nov-22 A</text><text class="t" transform="translate(341.4 500.27) scale(0.957 1)" font-size="5.1" text-anchor="middle">23-Jul-24</text><text class="t" transform="translate(375.5 500.27) scale(0.957 1)" font-size="5.1" text-anchor="middle">04-Mar-24</text><text class="t" transform="translate(409.7 500.27) scale(0.957 1)" font-size="5.1" text-anchor="middle">03-Sep-24</text><text class="t" transform="translate(444.6 500.27) scale(0.957 1)" font-size="5.1" text-anchor="end">36</text><text class="t" transform="translate(473.6 500.27) scale(0.957 1)" font-size="5.1" text-anchor="end">21.00</text><text class="g" transform="translate(52 515.51) scale(0.905 1)" font-size="6.5">S21 - Roads and Pavings</text><text class="t" transform="translate(288.8 514.81) scale(0.957 1)" font-size="5.1" text-anchor="end">377</text><text class="t" transform="translate(307.5 514.81) scale(0.957 1)" font-size="5.1" text-anchor="middle">01-Nov-22 A</text><text class="t" transform="translate(341.4 514.81) scale(0.957 1)" font-size="5.1" text-anchor="middle">23-Jul-24</text><text class="t" transform="translate(375.5 514.81) scale(0.957 1)" font-size="5.1" text-anchor="middle">04-Mar-24</text><text class="t" transform="translate(409.7 514.81) scale(0.957 1)" font-size="5.1" text-anchor="middle">03-Sep-24</text><text class="t" transform="translate(444.6 514.81) scale(0.957 1)" font-size="5.1" text-anchor="end">36</text><text class="t" transform="translate(473.6 514.81) scale(0.957 1)" font-size="5.1" text-anchor="end">21.00</text><text class="t" transform="translate(54.5 529.35) scale(1.020 1)" font-size="5.1">4-7878</text><text class="t" transform="translate(98.7 529.35) scale(0.908 1)" font-size="5.1">S21 - Install Profile Barriers (2) (incl. TCSS ducting)</text><text class="t" transform="translate(288.8 529.35) scale(0.957 1)" font-size="5.1" text-anchor="end">70</text><text class="t" transform="translate(307.5 529.35) scale(0.957 1)" font-size="5.1" text-anchor="middle">01-Nov-22 A</text><text class="t" transform="translate(341.4 529.35) scale(0.957 1)" font-size="5.1" text-anchor="middle">07-Mar-24</text><text class="t" transform="translate(375.5 529.35) scale(0.957 1)" font-size="5.1" text-anchor="middle">04-Mar-24</text><text class="t" transform="translate(409.7 529.35) scale(0.957 1)" font-size="5.1" text-anchor="middle">14-Mar-24</text><text class="t" transform="translate(444.6 529.35) scale(0.957 1)" font-size="5.1" text-anchor="end">6</text><text class="t" transform="translate(473.6 529.35) scale(0.957 1)" font-size="5.1" text-anchor="end">5.00</text><text class="t" transform="translate(497.9 529.35) scale(0.957 1)" font-size="5.1" text-anchor="end">85.71%</text><text class="t" transform="translate(516.5 529.35) scale(0.957 1)" font-size="5.1" text-anchor="middle">0%</text><text class="t" transform="translate(535.3 529.35) scale(0.908 1)" font-size="5.1">Task</text><svg x="533.3" y="522.8" width="34.9" height="14.04" viewBox="533.3 522.8 34.9 14.04"><text class="t" transform="translate(535.3 535.85) scale(0.908 1)" font-size="5.1">Dependent</text></svg><svg x="582.2" y="522.8" width="14.8" height="14.54" viewBox="582.2 522.8 14.8 14.54"><text class="t" transform="translate(584.2 529.35) scale(0.957 1)" font-size="5.1">KTE-\</text></svg><text class="t" transform="translate(54.5 543.89) scale(1.020 1)" font-size="5.1">4-7882</text><text class="t" transform="translate(98.7 543.89) scale(0.908 1)" font-size="5.1">S21 - Road Lighting and Road Furniture</text><text class="t" transform="translate(288.8 543.89) scale(0.957 1)" font-size="5.1" text-anchor="end">28</text><text class="t" transform="translate(307.5 543.89) scale(0.957 1)" font-size="5.1" text-anchor="middle">26-Feb-24</text><text class="t" transform="translate(341.4 543.89) scale(0.957 1)" font-size="5.1" text-anchor="middle">28-Mar-24</text><text class="t" transform="translate(375.5 543.89) scale(0.957 1)" font-size="5.1" text-anchor="middle">02-Aug-24</text><text class="t" transform="translate(409.7 543.89) scale(0.957 1)" font-size="5.1" text-anchor="middle">03-Sep-24</text><text class="t" transform="translate(444.6 543.89) scale(0.957 1)" font-size="5.1" text-anchor="end">128</text><text class="t" transform="translate(473.6 543.89) scale(0.957 1)" font-size="5.1" text-anchor="end">4.00</text><text class="t" transform="translate(497.9 543.89) scale(0.957 1)" font-size="5.1" text-anchor="end">0%</text><text class="t" transform="translate(516.5 543.89) scale(0.957 1)" font-size="5.1" text-anchor="middle">0%</text><text class="t" transform="translate(535.3 543.89) scale(0.908 1)" font-size="5.1">Task</text><svg x="533.3" y="537.34" width="34.9" height="14.04" viewBox="533.3 537.34 34.9 14.04"><text class="t" transform="translate(535.3 550.39) scale(0.908 1)" font-size="5.1">Dependent</text></svg><svg x="582.2" y="537.34" width="14.8" height="14.54" viewBox="582.2 537.34 14.8 14.54"><text class="t" transform="translate(584.2 543.89) scale(0.957 1)" font-size="5.1">KTE-\</text></svg><text class="t" transform="translate(54.5 558.43) scale(1.020 1)" font-size="5.1">4-7874</text><text class="t" transform="translate(98.7 558.43) scale(0.908 1)" font-size="5.1">S21 - Plant room finishing works</text><text class="t" transform="translate(288.8 558.43) scale(0.957 1)" font-size="5.1" text-anchor="end">72</text><text class="t" transform="translate(307.5 558.43) scale(0.957 1)" font-size="5.1" text-anchor="middle">04-Mar-24</text><text class="t" transform="translate(341.4 558.43) scale(0.957 1)" font-size="5.1" text-anchor="middle">01-Jun-24</text><text class="t" transform="translate(375.5 558.43) scale(0.957 1)" font-size="5.1" text-anchor="middle">19-Apr-24</text><text class="t" transform="translate(409.7 558.43) scale(0.957 1)" font-size="5.1" text-anchor="middle">16-Jul-24</text><text class="t" transform="translate(444.6 558.43) scale(0.957 1)" font-size="5.1" text-anchor="end">36</text><text class="t" transform="translate(473.6 558.43) scale(0.957 1)" font-size="5.1" text-anchor="end">6.00</text><text class="t" transform="translate(497.9 558.43) scale(0.957 1)" font-size="5.1" text-anchor="end">0%</text><text class="t" transform="translate(516.5 558.43) scale(0.957 1)" font-size="5.1" text-anchor="middle">0%</text><text class="t" transform="translate(535.3 558.43) scale(0.908 1)" font-size="5.1">Task</text><svg x="533.3" y="551.88" width="34.9" height="14.04" viewBox="533.3 551.88 34.9 14.04"><text class="t" transform="translate(535.3 564.93) scale(0.908 1)" font-size="5.1">Dependent</text></svg><svg x="582.2" y="551.88" width="14.8" height="14.54" viewBox="582.2 551.88 14.8 14.54"><text class="t" transform="translate(584.2 558.43) scale(0.957 1)" font-size="5.1">KTE-\</text></svg><text class="t" transform="translate(54.5 572.97) scale(1.020 1)" font-size="5.1">4-7880</text><text class="t" transform="translate(98.7 572.97) scale(0.908 1)" font-size="5.1">S21 - Watermain and Drainage works</text><text class="t" transform="translate(288.8 572.97) scale(0.957 1)" font-size="5.1" text-anchor="end">42</text><text class="t" transform="translate(307.5 572.97) scale(0.957 1)" font-size="5.1" text-anchor="middle">03-Jun-24</text><text class="t" transform="translate(341.4 572.97) scale(0.957 1)" font-size="5.1" text-anchor="middle">23-Jul-24</text><text class="t" transform="translate(375.5 572.97) scale(0.957 1)" font-size="5.1" text-anchor="middle">17-Jul-24</text><text class="t" transform="translate(409.7 572.97) scale(0.957 1)" font-size="5.1" text-anchor="middle">03-Sep-24</text><text class="t" transform="translate(444.6 572.97) scale(0.957 1)" font-size="5.1" text-anchor="end">36</text><text class="t" transform="translate(473.6 572.97) scale(0.957 1)" font-size="5.1" text-anchor="end">6.00</text><text class="t" transform="translate(497.9 572.97) scale(0.957 1)" font-size="5.1" text-anchor="end">0%</text><text class="t" transform="translate(516.5 572.97) scale(0.957 1)" font-size="5.1" text-anchor="middle">0%</text><text class="t" transform="translate(535.3 572.97) scale(0.908 1)" font-size="5.1">Task</text><svg x="533.3" y="566.42" width="34.9" height="14.04" viewBox="533.3 566.42 34.9 14.04"><text class="t" transform="translate(535.3 579.47) scale(0.908 1)" font-size="5.1">Dependent</text></svg><svg x="582.2" y="566.42" width="14.8" height="14.54" viewBox="582.2 566.42 14.8 14.54"><text class="t" transform="translate(584.2 572.97) scale(0.957 1)" font-size="5.1">KTE-\</text></svg><text class="g" transform="translate(52 588.21) scale(0.905 1)" font-size="6.5">S21 - E&amp;M Works</text><text class="t" transform="translate(288.8 587.51) scale(0.957 1)" font-size="5.1" text-anchor="end">98</text><text class="t" transform="translate(307.5 587.51) scale(0.957 1)" font-size="5.1" text-anchor="middle">04-Mar-24</text><text class="t" transform="translate(341.4 587.51) scale(0.957 1)" font-size="5.1" text-anchor="middle">04-Jul-24</text><text class="t" transform="translate(375.5 587.51) scale(0.957 1)" font-size="5.1" text-anchor="middle">10-Apr-24</text><text class="t" transform="translate(409.7 587.51) scale(0.957 1)" font-size="5.1" text-anchor="middle">06-Aug-24</text><text class="t" transform="translate(444.6 587.51) scale(0.957 1)" font-size="5.1" text-anchor="end">28</text><text class="t" transform="translate(473.6 587.51) scale(0.957 1)" font-size="5.1" text-anchor="end">0.00</text><text class="gh" transform="translate(641.96 29.6) scale(0.860 1)" font-size="4.8" text-anchor="middle">February</text><text class="gh" transform="translate(641.96 35.9) scale(0.950 1)" font-size="4.7" text-anchor="middle">58</text><text class="gh" transform="translate(704.66 29.6) scale(0.860 1)" font-size="4.8" text-anchor="middle">March</text><text class="gh" transform="translate(704.66 35.9) scale(0.950 1)" font-size="4.7" text-anchor="middle">59</text><text class="gh" transform="translate(768.41 29.6) scale(0.860 1)" font-size="4.8" text-anchor="middle">April</text><text class="gh" transform="translate(768.41 35.9) scale(0.950 1)" font-size="4.7" text-anchor="middle">60</text><text class="gh" transform="translate(832.15 29.6) scale(0.860 1)" font-size="4.8" text-anchor="middle">May</text><text class="gh" transform="translate(832.15 35.9) scale(0.950 1)" font-size="4.7" text-anchor="middle">61</text><text class="gh" transform="translate(895.9 29.6) scale(0.860 1)" font-size="4.8" text-anchor="middle">June</text><text class="gh" transform="translate(895.9 35.9) scale(0.950 1)" font-size="4.7" text-anchor="middle">62</text><text class="gh" transform="translate(935.83 29.6) scale(0.860 1)" font-size="4.8" text-anchor="middle">July</text><text class="gh" transform="translate(935.83 35.9) scale(0.950 1)" font-size="4.7" text-anchor="middle">63</text><text class="gh" transform="translate(610.62 42) scale(0.950 1)" font-size="4.7" text-anchor="middle">28</text><text class="gh" transform="translate(625.25 42) scale(0.950 1)" font-size="4.7" text-anchor="middle">04</text><text class="gh" transform="translate(639.88 42) scale(0.950 1)" font-size="4.7" text-anchor="middle">11</text><text class="gh" transform="translate(654.5 42) scale(0.950 1)" font-size="4.7" text-anchor="middle">18</text><text class="gh" transform="translate(669.13 42) scale(0.950 1)" font-size="4.7" text-anchor="middle">25</text><text class="gh" transform="translate(683.76 42) scale(0.950 1)" font-size="4.7" text-anchor="middle">03</text><text class="gh" transform="translate(698.39 42) scale(0.950 1)" font-size="4.7" text-anchor="middle">10</text><text class="gh" transform="translate(713.02 42) scale(0.950 1)" font-size="4.7" text-anchor="middle">17</text><text class="gh" transform="translate(727.65 42) scale(0.950 1)" font-size="4.7" text-anchor="middle">24</text><text class="gh" transform="translate(742.29 42) scale(0.950 1)" font-size="4.7" text-anchor="middle">31</text><text class="gh" transform="translate(756.91 42) scale(0.950 1)" font-size="4.7" text-anchor="middle">07</text><text class="gh" transform="translate(771.55 42) scale(0.950 1)" font-size="4.7" text-anchor="middle">14</text><text class="gh" transform="translate(786.17 42) scale(0.950 1)" font-size="4.7" text-anchor="middle">21</text><text class="gh" transform="translate(800.81 42) scale(0.950 1)" font-size="4.7" text-anchor="middle">28</text><text class="gh" transform="translate(815.44 42) scale(0.950 1)" font-size="4.7" text-anchor="middle">05</text><text class="gh" transform="translate(830.07 42) scale(0.950 1)" font-size="4.7" text-anchor="middle">12</text><text class="gh" transform="translate(844.7 42) scale(0.950 1)" font-size="4.7" text-anchor="middle">19</text><text class="gh" transform="translate(859.33 42) scale(0.950 1)" font-size="4.7" text-anchor="middle">26</text><text class="gh" transform="translate(873.96 42) scale(0.950 1)" font-size="4.7" text-anchor="middle">02</text><text class="gh" transform="translate(888.59 42) scale(0.950 1)" font-size="4.7" text-anchor="middle">09</text><text class="gh" transform="translate(903.22 42) scale(0.950 1)" font-size="4.7" text-anchor="middle">16</text><text class="gh" transform="translate(917.85 42) scale(0.950 1)" font-size="4.7" text-anchor="middle">23</text><text class="gh" transform="translate(932.48 42) scale(0.950 1)" font-size="4.7" text-anchor="middle">30</text><svg x="597.8" y="37" width="346" height="6" viewBox="597.8 37 346 6"><text class="gh" transform="translate(940.79 42) scale(0.950 1)" font-size="4.7">07</text></svg><text class="lg" transform="translate(67.2 615) scale(0.900 1)" font-size="4.5">Current Milestone</text><text class="lg" transform="translate(67.2 624) scale(0.900 1)" font-size="4.5">Actual Work</text><text class="lg" transform="translate(67.2 633.3) scale(0.900 1)" font-size="4.5">Critical Remaining Work</text><text class="lg" transform="translate(67.2 642.3) scale(0.900 1)" font-size="4.5">Remaining Work</text><text class="ttl" transform="translate(385 627.8)" font-size="9.7" text-anchor="middle">Central Kowloon Route - Kai Tak East (Month 58 Update) (Rev48- CSD)</text><text class="ttl" transform="translate(385 639.9)" font-size="9.7" text-anchor="middle">Three Month Rolling Programme</text><text class="ft" transform="translate(582 616.9) scale(0.970 1)" font-size="5.6">Project ID: KTE-WP48_M58</text><text class="ft" transform="translate(582 625.9) scale(0.970 1)" font-size="5.6">Baseline:</text><text class="ft" transform="translate(582 634.9) scale(0.970 1)" font-size="5.6">Layout: KTE - 3 Months Rolling Programme</text><text class="ft" transform="translate(582 644.2) scale(0.970 1)" font-size="5.6">Filter: TASK filters: 3 Months Rolling_1, KTE - Submission.</text><text class="ft" transform="translate(582 661.9) scale(0.970 1)" font-size="5.6">Page 20 of 21</text><text class="rv" transform="translate(779.2 611.6) scale(0.950 1)" font-size="4.5" text-anchor="middle">Date</text><text class="rv" transform="translate(843.1 611.6) scale(0.950 1)" font-size="4.5" text-anchor="middle">Revision</text><text class="rv" transform="translate(903.6 611.6) scale(0.950 1)" font-size="4.5" text-anchor="middle">Checked</text><text class="rv" transform="translate(930.5 611.6) scale(0.950 1)" font-size="4.5" text-anchor="middle">Approved</text><text class="rv" transform="translate(764.4 618.7) scale(0.950 1)" font-size="4.5">25-Sep-23</text><text class="rv" transform="translate(797.2 618.7) scale(0.950 1)" font-size="4.5">Submit CSD Programme Rev 44with M53 Mon...</text><text class="rv" transform="translate(892.2 618.7) scale(0.950 1)" font-size="4.5">TYY</text><text class="rv" transform="translate(918.2 618.7) scale(0.950 1)" font-size="4.5">DC</text><text class="rv" transform="translate(764.4 625.9) scale(0.950 1)" font-size="4.5">25-Oct-23</text><text class="rv" transform="translate(797.2 625.9) scale(0.950 1)" font-size="4.5">Submit CSD Programme Rev 45with M54 Mon...</text><text class="rv" transform="translate(892.2 625.9) scale(0.950 1)" font-size="4.5">TYY</text><text class="rv" transform="translate(918.2 625.9) scale(0.950 1)" font-size="4.5">DC</text><text class="rv" transform="translate(764.4 633.3) scale(0.950 1)" font-size="4.5">25-Nov-23</text><text class="rv" transform="translate(797.2 633.3) scale(0.950 1)" font-size="4.5">Submit CSD Programme Rev 46with M55 Mon...</text><text class="rv" transform="translate(892.2 633.3) scale(0.950 1)" font-size="4.5">TYY</text><text class="rv" transform="translate(918.2 633.3) scale(0.950 1)" font-size="4.5">HL</text><text class="rv" transform="translate(764.4 640.7) scale(0.950 1)" font-size="4.5">20-Dec-23</text><text class="rv" transform="translate(797.2 640.7) scale(0.950 1)" font-size="4.5">Submit CSD Programme Rev 47with M56 Mon...</text><text class="rv" transform="translate(892.2 640.7) scale(0.950 1)" font-size="4.5">TYY</text><text class="rv" transform="translate(918.2 640.7) scale(0.950 1)" font-size="4.5">HL</text><text class="rv" transform="translate(764.4 647.9) scale(0.950 1)" font-size="4.5">25-Feb-24</text><text class="rv" transform="translate(797.2 647.9) scale(0.950 1)" font-size="4.5">CSD Programme Rev 48with M57/58 Monthly ...</text><text class="rv" transform="translate(892.2 647.9) scale(0.950 1)" font-size="4.5">TYY</text><text class="rv" transform="translate(918.2 647.9) scale(0.950 1)" font-size="4.5">HL</text></svg>
</div></body></html>
